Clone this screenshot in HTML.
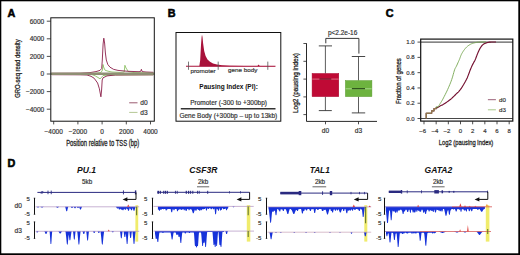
<!DOCTYPE html>
<html><head><meta charset="utf-8"><style>
html,body{margin:0;padding:0;background:#fff;width:520px;height:255px;overflow:hidden}
svg{display:block}
text{font-family:"Liberation Sans", sans-serif}
</style></head><body>
<svg width="520" height="255" viewBox="0 0 520 255">
<rect width="520" height="255" fill="#fff"/>
<rect x="0" y="0" width="520" height="1.3" fill="#000"/>
<rect x="0" y="0" width="1.3" height="255" fill="#000"/>
<rect x="518.3" y="0" width="1.7" height="255" fill="#000"/>
<rect x="0" y="253.3" width="520" height="1.7" fill="#000"/>
<text x="7.40" y="16.60" font-size="10.8" text-anchor="start" stroke="#000" stroke-width="0.55" font-weight="bold" fill="#000">A</text>
<path d="M51.80,74.40 L92.00,74.60 L95.30,75.90 L98.00,77.50 L100.00,78.80 L101.50,77.50 L103.00,75.50 L110.00,75.00 L153.30,74.80" stroke="#8cbf64" stroke-width="0.9" fill="none" stroke-linejoin="round"/>
<path d="M51.80,73.60 L95.00,73.40 L101.00,72.60 L102.50,70.00 L103.00,64.50 L103.60,67.00 L105.00,70.20 L108.00,71.20 L112.00,72.00 L120.00,72.40 L124.20,72.00 L124.90,65.30 L126.00,68.00 L128.40,71.60 L134.00,72.60 L153.30,72.90" stroke="#8cbf64" stroke-width="0.9" fill="none" stroke-linejoin="round"/>
<path d="M51.80,74.70 L80.00,74.80 L87.00,75.00 L91.00,76.30 L94.10,78.20 L97.60,83.00 L99.40,88.80 L100.90,96.80 L101.60,90.00 L102.20,80.00 L103.00,77.80 L107.00,75.90 L115.30,75.00 L130.00,74.90 L153.30,74.80" stroke="#8b1f4a" stroke-width="0.9" fill="none" stroke-linejoin="round"/>
<path d="M51.80,73.30 L80.00,73.20 L90.00,72.60 L96.00,71.60 L100.00,70.40 L101.70,68.50 L102.30,60.00 L103.10,44.00 L103.80,38.20 L104.60,43.00 L105.40,53.00 L106.30,60.00 L107.80,64.50 L110.00,67.20 L113.50,69.30 L118.00,70.40 L128.00,71.30 L139.00,71.70 L140.70,71.40 L141.40,69.30 L142.10,71.60 L146.00,72.00 L153.30,72.30" stroke="#8b1f4a" stroke-width="0.9" fill="none" stroke-linejoin="round"/>
<line x1="50.80" y1="73.70" x2="154.30" y2="73.70" stroke="#8f8f74" stroke-width="2.4"/>
<rect x="50.8" y="17.8" width="103.50000000000001" height="103.4" fill="none" stroke="#111" stroke-width="1"/>
<line x1="46.80" y1="21.20" x2="50.80" y2="21.20" stroke="#222" stroke-width="0.8"/>
<text x="44.20" y="23.50" font-size="6.5" text-anchor="end" stroke="#333" stroke-width="0.18" fill="#333">6000</text>
<line x1="46.80" y1="38.80" x2="50.80" y2="38.80" stroke="#222" stroke-width="0.8"/>
<text x="44.20" y="41.10" font-size="6.5" text-anchor="end" stroke="#333" stroke-width="0.18" fill="#333">4000</text>
<line x1="46.80" y1="56.40" x2="50.80" y2="56.40" stroke="#222" stroke-width="0.8"/>
<text x="44.20" y="58.70" font-size="6.5" text-anchor="end" stroke="#333" stroke-width="0.18" fill="#333">2000</text>
<line x1="46.80" y1="74.00" x2="50.80" y2="74.00" stroke="#222" stroke-width="0.8"/>
<text x="44.20" y="76.30" font-size="6.5" text-anchor="end" stroke="#333" stroke-width="0.18" fill="#333">0</text>
<line x1="46.80" y1="91.60" x2="50.80" y2="91.60" stroke="#222" stroke-width="0.8"/>
<text x="44.20" y="93.90" font-size="6.5" text-anchor="end" stroke="#333" stroke-width="0.18" fill="#333">−2000</text>
<line x1="46.80" y1="109.20" x2="50.80" y2="109.20" stroke="#222" stroke-width="0.8"/>
<text x="44.20" y="111.50" font-size="6.5" text-anchor="end" stroke="#333" stroke-width="0.18" fill="#333">−4000</text>
<line x1="53.70" y1="121.20" x2="53.70" y2="124.40" stroke="#222" stroke-width="0.8"/>
<text x="53.70" y="134.00" font-size="6.5" text-anchor="middle" stroke="#333" stroke-width="0.18" fill="#333">−4000</text>
<line x1="77.90" y1="121.20" x2="77.90" y2="124.40" stroke="#222" stroke-width="0.8"/>
<text x="77.90" y="134.00" font-size="6.5" text-anchor="middle" stroke="#333" stroke-width="0.18" fill="#333">−2000</text>
<line x1="102.10" y1="121.20" x2="102.10" y2="124.40" stroke="#222" stroke-width="0.8"/>
<text x="102.10" y="134.00" font-size="6.5" text-anchor="middle" stroke="#333" stroke-width="0.18" fill="#333">0</text>
<line x1="126.30" y1="121.20" x2="126.30" y2="124.40" stroke="#222" stroke-width="0.8"/>
<text x="126.30" y="134.00" font-size="6.5" text-anchor="middle" stroke="#333" stroke-width="0.18" fill="#333">2000</text>
<line x1="150.50" y1="121.20" x2="150.50" y2="124.40" stroke="#222" stroke-width="0.8"/>
<text x="150.50" y="134.00" font-size="6.5" text-anchor="middle" stroke="#333" stroke-width="0.18" fill="#333">4000</text>
<text x="66.20" y="145.60" font-size="8.2" text-anchor="start" stroke="#222" stroke-width="0.28" fill="#222" textLength="73" lengthAdjust="spacingAndGlyphs">Position relative to TSS (bp)</text>
<text x="0.00" y="0.00" font-size="7.6" text-anchor="middle" stroke="#222" stroke-width="0.28" fill="#222" textLength="58.5" lengthAdjust="spacingAndGlyphs" transform="translate(20.4,68.6) rotate(-90)">GRO-seq read density</text>
<line x1="129.20" y1="102.80" x2="137.50" y2="102.80" stroke="#9a5a70" stroke-width="1"/>
<line x1="129.20" y1="112.40" x2="137.50" y2="112.40" stroke="#b4c894" stroke-width="1"/>
<text x="140.30" y="105.10" font-size="6.6" text-anchor="start" stroke="#333" stroke-width="0.18" fill="#333">d0</text>
<text x="140.30" y="114.70" font-size="6.6" text-anchor="start" stroke="#333" stroke-width="0.18" fill="#333">d3</text>
<text x="167.80" y="17.10" font-size="10.8" text-anchor="start" stroke="#000" stroke-width="0.55" font-weight="bold" fill="#000">B</text>
<rect x="176" y="32.5" width="104.8" height="88.7" fill="none" stroke="#111" stroke-width="1"/>
<path d="M199.30,66.20 L200.20,60.00 L201.00,45.00 L201.60,37.00 L202.00,34.80 L202.50,37.00 L203.20,44.00 L204.20,51.00 L205.60,56.00 L207.50,59.50 L210.00,61.80 L213.00,63.40 L217.00,64.50 L222.00,65.30 L230.00,65.70 L245.00,65.90 L257.50,65.90 L258.60,64.60 L259.70,65.90 L275.00,66.00 L275.00,66.20 Z" fill="#a8123a" stroke="none"/>
<line x1="186.00" y1="66.20" x2="275.50" y2="66.20" stroke="#a8123a" stroke-width="1.1"/>
<line x1="188.50" y1="61.60" x2="188.50" y2="69.80" stroke="#555" stroke-width="0.8"/>
<line x1="218.20" y1="61.60" x2="218.20" y2="69.80" stroke="#555" stroke-width="0.8"/>
<line x1="267.80" y1="61.60" x2="267.80" y2="69.80" stroke="#555" stroke-width="0.8"/>
<text x="190.50" y="72.90" font-size="6.2" text-anchor="start" stroke="#333" stroke-width="0.18" fill="#333" textLength="25" lengthAdjust="spacingAndGlyphs">promoter</text>
<text x="227.90" y="71.90" font-size="6.2" text-anchor="start" stroke="#333" stroke-width="0.18" fill="#333" textLength="29.4" lengthAdjust="spacingAndGlyphs">gene body</text>
<text x="228.60" y="89.10" font-size="6.5" text-anchor="middle" font-weight="bold" fill="#111" textLength="58.5" lengthAdjust="spacingAndGlyphs">Pausing Index (PI):</text>
<text x="228.60" y="105.00" font-size="6.4" text-anchor="middle" stroke="#333" stroke-width="0.18" fill="#333" textLength="76.8" lengthAdjust="spacingAndGlyphs">Promoter (-300 to +300bp)</text>
<line x1="180.80" y1="108.80" x2="275.50" y2="108.80" stroke="#333" stroke-width="1.6"/>
<text x="228.35" y="118.20" font-size="6.4" text-anchor="middle" stroke="#333" stroke-width="0.18" fill="#333" textLength="97.9" lengthAdjust="spacingAndGlyphs">Gene Body (+300bp – up to 13kb)</text>
<path d="M306.5,43.3 L306.5,121.4 L377,121.4" stroke="#111" stroke-width="0.9" fill="none"/>
<line x1="303.40" y1="43.50" x2="306.50" y2="43.50" stroke="#222" stroke-width="0.8"/>
<line x1="303.40" y1="61.30" x2="306.50" y2="61.30" stroke="#222" stroke-width="0.8"/>
<line x1="303.40" y1="79.10" x2="306.50" y2="79.10" stroke="#222" stroke-width="0.8"/>
<line x1="303.40" y1="96.90" x2="306.50" y2="96.90" stroke="#222" stroke-width="0.8"/>
<line x1="303.40" y1="114.60" x2="306.50" y2="114.60" stroke="#222" stroke-width="0.8"/>
<line x1="325.50" y1="121.40" x2="325.50" y2="124.30" stroke="#222" stroke-width="0.8"/>
<line x1="358.50" y1="121.40" x2="358.50" y2="124.30" stroke="#222" stroke-width="0.8"/>
<text x="325.50" y="133.10" font-size="6.6" text-anchor="middle" stroke="#333" stroke-width="0.18" fill="#333">d0</text>
<text x="358.50" y="133.10" font-size="6.6" text-anchor="middle" stroke="#333" stroke-width="0.18" fill="#333">d3</text>
<text x="0.00" y="0.00" font-size="7.6" text-anchor="middle" stroke="#222" stroke-width="0.28" fill="#222" textLength="60" lengthAdjust="spacingAndGlyphs" transform="translate(298.2,83.0) rotate(-90)">Log2 (pausing index)</text>
<text x="342.60" y="34.50" font-size="6.5" text-anchor="middle" stroke="#333" stroke-width="0.18" fill="#333" textLength="29.4" lengthAdjust="spacingAndGlyphs">p&lt;2.2e-16</text>
<path d="M325.8,43.3 L325.8,38.4 L358.9,38.4 L358.9,53.6" stroke="#222" stroke-width="0.9" fill="none"/>
<line x1="325.40" y1="45.90" x2="325.40" y2="73.50" stroke="#333" stroke-width="0.8"/>
<line x1="325.40" y1="96.60" x2="325.40" y2="110.60" stroke="#333" stroke-width="0.8"/>
<line x1="318.80" y1="45.90" x2="332.00" y2="45.90" stroke="#333" stroke-width="0.9"/>
<line x1="318.80" y1="110.60" x2="331.80" y2="110.60" stroke="#333" stroke-width="0.9"/>
<rect x="312.1" y="73.5" width="26.65" height="23.1" fill="#bf0a35" stroke="#a8002a" stroke-width="0.5"/>
<line x1="312.30" y1="79.10" x2="338.60" y2="79.10" stroke="#e88a9a" stroke-width="0.8"/>
<line x1="319.40" y1="79.00" x2="331.30" y2="79.00" stroke="#5a0012" stroke-width="1.0"/>
<line x1="358.50" y1="56.50" x2="358.50" y2="80.60" stroke="#333" stroke-width="0.8"/>
<line x1="358.50" y1="96.60" x2="358.50" y2="112.90" stroke="#333" stroke-width="0.8"/>
<line x1="351.80" y1="56.50" x2="365.20" y2="56.50" stroke="#333" stroke-width="0.9"/>
<line x1="351.80" y1="112.90" x2="365.20" y2="112.90" stroke="#333" stroke-width="0.9"/>
<rect x="345.4" y="80.6" width="26.5" height="16.0" fill="#6db33f" stroke="#5a9a30" stroke-width="0.5"/>
<line x1="345.60" y1="88.80" x2="371.70" y2="88.80" stroke="#b8e0a0" stroke-width="0.8"/>
<line x1="351.90" y1="88.70" x2="365.00" y2="88.70" stroke="#1a3a0a" stroke-width="1.0"/>
<text x="385.70" y="17.10" font-size="10.8" text-anchor="start" stroke="#000" stroke-width="0.55" font-weight="bold" fill="#000">C</text>
<line x1="420.70" y1="42.10" x2="512.80" y2="42.10" stroke="#333" stroke-width="1.0"/>
<line x1="420.70" y1="118.50" x2="512.80" y2="118.50" stroke="#333" stroke-width="0.9"/>
<path d="M426.20,118.50 L426.20,113.20 L431.70,113.20 L431.70,110.90 L434.00,110.90 L434.00,108.60 L436.20,108.60 L436.20,107.60 L437.60,107.60 L437.91,107.40 L438.34,107.13 L438.84,106.81 L439.40,106.46 L439.96,106.12 L440.50,105.80 L440.99,105.55 L441.44,105.34 L441.90,105.14 L442.42,104.90 L443.04,104.57 L443.80,104.10 L444.76,103.47 L445.89,102.71 L447.13,101.86 L448.39,100.96 L449.60,100.06 L450.70,99.20 L451.69,98.37 L452.61,97.53 L453.50,96.69 L454.35,95.86 L455.18,95.02 L456.00,94.20 L456.78,93.45 L457.51,92.77 L458.21,92.10 L458.93,91.36 L459.68,90.49 L460.50,89.40 L461.43,88.06 L462.44,86.50 L463.49,84.81 L464.53,83.05 L465.52,81.29 L466.40,79.60 L467.19,77.91 L467.91,76.15 L468.59,74.39 L469.21,72.70 L469.78,71.14 L470.30,69.80 L470.74,68.72 L471.10,67.86 L471.41,67.13 L471.71,66.47 L472.02,65.78 L472.40,65.00 L472.84,64.13 L473.33,63.23 L473.84,62.32 L474.35,61.39 L474.84,60.45 L475.30,59.50 L475.71,58.54 L476.09,57.56 L476.46,56.57 L476.82,55.57 L477.19,54.58 L477.60,53.60 L478.03,52.60 L478.49,51.58 L478.95,50.56 L479.43,49.57 L479.91,48.64 L480.40,47.80 L480.89,47.05 L481.37,46.37 L481.87,45.74 L482.38,45.18 L482.92,44.66 L483.50,44.20 L484.13,43.79 L484.82,43.45 L485.53,43.15 L486.25,42.90 L486.95,42.69 L487.60,42.50 L488.19,42.35 L488.73,42.24 L489.24,42.17 L489.77,42.13 L490.35,42.09 L491.00,42.05 L491.80,42.01 L492.73,41.99 L493.71,41.97 L494.64,41.96 L495.44,41.96 L496.00,41.95" stroke="#741030" stroke-width="1.15" fill="none"/>
<path d="M426.20,118.50 L426.20,113.20 L431.70,113.20 L431.70,110.90 L434.00,110.90 L434.00,108.60 L436.20,108.60 L436.20,106.80 L438.20,106.80 L438.44,106.41 L438.76,105.88 L439.15,105.25 L439.57,104.56 L440.00,103.86 L440.40,103.20 L440.76,102.62 L441.09,102.11 L441.43,101.59 L441.81,100.98 L442.25,100.21 L442.80,99.20 L443.48,97.90 L444.28,96.36 L445.15,94.66 L446.04,92.88 L446.91,91.10 L447.70,89.40 L448.43,87.77 L449.14,86.13 L449.82,84.50 L450.48,82.87 L451.11,81.23 L451.70,79.60 L452.26,77.90 L452.79,76.11 L453.28,74.32 L453.75,72.62 L454.19,71.09 L454.60,69.80 L454.96,68.85 L455.27,68.19 L455.55,67.69 L455.83,67.24 L456.14,66.72 L456.50,66.00 L456.93,65.07 L457.41,64.01 L457.92,62.88 L458.43,61.72 L458.93,60.58 L459.40,59.50 L459.81,58.48 L460.17,57.49 L460.52,56.51 L460.89,55.54 L461.31,54.57 L461.80,53.60 L462.38,52.60 L463.02,51.58 L463.71,50.56 L464.43,49.57 L465.16,48.64 L465.90,47.80 L466.64,47.05 L467.40,46.37 L468.17,45.74 L468.97,45.18 L469.77,44.66 L470.60,44.20 L471.46,43.79 L472.37,43.45 L473.29,43.15 L474.20,42.90 L475.08,42.69 L475.90,42.50 L476.63,42.35 L477.29,42.24 L477.91,42.17 L478.54,42.13 L479.22,42.09 L480.00,42.05 L480.96,42.01 L482.08,41.99 L483.26,41.97 L484.37,41.96 L485.33,41.96 L486.00,41.95" stroke="#76a650" stroke-width="0.9" fill="none"/>
<path d="M426.20,118.50 L426.20,113.20 L431.70,113.20 L431.70,110.90 L434.00,110.90 L434.00,108.60 L436.20,108.60" stroke="#9a7050" stroke-width="0.9" fill="none"/>
<rect x="420.7" y="39.1" width="92.10" height="82.00" fill="none" stroke="#111" stroke-width="1.2"/>
<line x1="417.50" y1="42.10" x2="420.70" y2="42.10" stroke="#222" stroke-width="0.8"/>
<text x="414.70" y="44.20" font-size="6.0" text-anchor="end" stroke="#333" stroke-width="0.18" fill="#333">1.0</text>
<line x1="417.50" y1="57.38" x2="420.70" y2="57.38" stroke="#222" stroke-width="0.8"/>
<text x="414.70" y="59.48" font-size="6.0" text-anchor="end" stroke="#333" stroke-width="0.18" fill="#333">0.8</text>
<line x1="417.50" y1="72.66" x2="420.70" y2="72.66" stroke="#222" stroke-width="0.8"/>
<text x="414.70" y="74.76" font-size="6.0" text-anchor="end" stroke="#333" stroke-width="0.18" fill="#333">0.6</text>
<line x1="417.50" y1="87.94" x2="420.70" y2="87.94" stroke="#222" stroke-width="0.8"/>
<text x="414.70" y="90.04" font-size="6.0" text-anchor="end" stroke="#333" stroke-width="0.18" fill="#333">0.4</text>
<line x1="417.50" y1="103.22" x2="420.70" y2="103.22" stroke="#222" stroke-width="0.8"/>
<text x="414.70" y="105.32" font-size="6.0" text-anchor="end" stroke="#333" stroke-width="0.18" fill="#333">0.2</text>
<line x1="417.50" y1="118.50" x2="420.70" y2="118.50" stroke="#222" stroke-width="0.8"/>
<text x="414.70" y="120.60" font-size="6.0" text-anchor="end" stroke="#333" stroke-width="0.18" fill="#333">0.0</text>
<line x1="423.99" y1="121.10" x2="423.99" y2="124.30" stroke="#222" stroke-width="0.8"/>
<text x="422.69" y="133.20" font-size="6.0" text-anchor="middle" stroke="#333" stroke-width="0.18" fill="#333">−6</text>
<line x1="436.16" y1="121.10" x2="436.16" y2="124.30" stroke="#222" stroke-width="0.8"/>
<text x="434.86" y="133.20" font-size="6.0" text-anchor="middle" stroke="#333" stroke-width="0.18" fill="#333">−4</text>
<line x1="448.33" y1="121.10" x2="448.33" y2="124.30" stroke="#222" stroke-width="0.8"/>
<text x="447.03" y="133.20" font-size="6.0" text-anchor="middle" stroke="#333" stroke-width="0.18" fill="#333">−2</text>
<line x1="460.50" y1="121.10" x2="460.50" y2="124.30" stroke="#222" stroke-width="0.8"/>
<text x="460.50" y="133.20" font-size="6.0" text-anchor="middle" stroke="#333" stroke-width="0.18" fill="#333">0</text>
<line x1="472.67" y1="121.10" x2="472.67" y2="124.30" stroke="#222" stroke-width="0.8"/>
<text x="472.67" y="133.20" font-size="6.0" text-anchor="middle" stroke="#333" stroke-width="0.18" fill="#333">2</text>
<line x1="484.84" y1="121.10" x2="484.84" y2="124.30" stroke="#222" stroke-width="0.8"/>
<text x="484.84" y="133.20" font-size="6.0" text-anchor="middle" stroke="#333" stroke-width="0.18" fill="#333">4</text>
<line x1="497.01" y1="121.10" x2="497.01" y2="124.30" stroke="#222" stroke-width="0.8"/>
<text x="497.01" y="133.20" font-size="6.0" text-anchor="middle" stroke="#333" stroke-width="0.18" fill="#333">6</text>
<line x1="509.18" y1="121.10" x2="509.18" y2="124.30" stroke="#222" stroke-width="0.8"/>
<text x="509.18" y="133.20" font-size="6.0" text-anchor="middle" stroke="#333" stroke-width="0.18" fill="#333">8</text>
<text x="438.70" y="144.80" font-size="8.0" text-anchor="start" stroke="#222" stroke-width="0.28" fill="#222" textLength="54.6" lengthAdjust="spacingAndGlyphs">Log2 (pausing index)</text>
<text x="0.00" y="0.00" font-size="7.6" text-anchor="middle" stroke="#222" stroke-width="0.28" fill="#222" textLength="45.6" lengthAdjust="spacingAndGlyphs" transform="translate(400.9,81.1) rotate(-90)">Fraction of genes</text>
<line x1="487.90" y1="99.70" x2="495.90" y2="99.70" stroke="#9a6078" stroke-width="1"/>
<line x1="487.90" y1="109.80" x2="495.90" y2="109.80" stroke="#a8c888" stroke-width="1"/>
<text x="499.00" y="101.70" font-size="6.2" text-anchor="start" stroke="#333" stroke-width="0.18" fill="#333">d0</text>
<text x="499.00" y="111.80" font-size="6.2" text-anchor="start" stroke="#333" stroke-width="0.18" fill="#333">d3</text>
<text x="7.40" y="167.10" font-size="10.8" text-anchor="start" stroke="#000" stroke-width="0.55" font-weight="bold" fill="#000">D</text>
<rect x="135.4" y="205.2" width="2.80" height="36.4" fill="#f0ec6c"/>
<rect x="246.8" y="205.2" width="3.50" height="36.4" fill="#f0ec6c"/>
<rect x="364.3" y="205.2" width="3.00" height="36.4" fill="#f0ec6c"/>
<rect x="485.8" y="205.2" width="3.60" height="36.4" fill="#f0ec6c"/>
<text x="86.60" y="173.30" font-size="8.3" text-anchor="middle" font-weight="bold" font-style="italic" fill="#111" textLength="19.0" lengthAdjust="spacingAndGlyphs">PU.1</text>
<text x="87.10" y="184.20" font-size="6.3" text-anchor="middle" stroke="#333" stroke-width="0.18" fill="#333">5kb</text>
<line x1="37.40" y1="192.40" x2="136.00" y2="192.40" stroke="#2a2a80" stroke-width="1.0"/>
<rect x="47.55" y="190.60" width="0.9" height="3.6" fill="#2a2a80"/>
<rect x="50.75" y="190.60" width="0.9" height="3.6" fill="#2a2a80"/>
<rect x="122.95" y="190.40" width="0.9" height="4.0" fill="#2a2a80"/>
<rect x="134.90" y="190.40" width="1.4" height="4.0" fill="#2a2a80"/>
<path d="M136.00,192.40 L136.00,199.40 L126.60,199.4" stroke="#111" stroke-width="1.0" fill="none"/>
<path d="M122.60,199.4 L127.40,197.2 L127.40,201.6 Z" fill="#111"/>
<ellipse cx="42" cy="192.4" rx="1.3" ry="0.9" fill="none" stroke="#35358a" stroke-width="0.6"/>
<line x1="40.80" y1="193.70" x2="43.20" y2="191.10" stroke="#2a2a80" stroke-width="0.6"/>
<text x="203.35" y="173.30" font-size="8.3" text-anchor="middle" font-weight="bold" font-style="italic" fill="#111" textLength="28.1" lengthAdjust="spacingAndGlyphs">CSF3R</text>
<text x="203.20" y="184.20" font-size="6.3" text-anchor="middle" stroke="#333" stroke-width="0.18" fill="#333">2kb</text>
<line x1="197.00" y1="186.80" x2="209.20" y2="186.80" stroke="#555" stroke-width="0.9"/>
<line x1="157.40" y1="192.30" x2="249.60" y2="192.30" stroke="#2a2a80" stroke-width="1.0"/>
<rect x="157.40" y="190.80" width="1.6" height="3" fill="#2a2a80"/>
<rect x="159.70" y="190.80" width="1.2" height="3" fill="#2a2a80"/>
<rect x="163.20" y="190.80" width="1.2" height="3" fill="#2a2a80"/>
<rect x="165.00" y="190.80" width="1.2" height="3" fill="#2a2a80"/>
<rect x="166.90" y="190.80" width="1.0" height="3" fill="#2a2a80"/>
<rect x="174.95" y="190.80" width="0.9" height="3" fill="#2a2a80"/>
<rect x="176.75" y="190.80" width="0.9" height="3" fill="#2a2a80"/>
<rect x="185.70" y="190.80" width="1.2" height="3" fill="#2a2a80"/>
<rect x="188.00" y="190.80" width="1.2" height="3" fill="#2a2a80"/>
<rect x="190.10" y="190.80" width="1.0" height="3" fill="#2a2a80"/>
<rect x="192.30" y="190.80" width="1.0" height="3" fill="#2a2a80"/>
<rect x="197.15" y="190.80" width="0.9" height="3" fill="#2a2a80"/>
<rect x="198.75" y="190.80" width="0.9" height="3" fill="#2a2a80"/>
<rect x="207.20" y="190.80" width="1.0" height="3" fill="#2a2a80"/>
<rect x="229.25" y="191.10" width="0.7" height="2.4" fill="#2a2a80"/>
<rect x="240.15" y="191.10" width="0.7" height="2.4" fill="#2a2a80"/>
<path d="M249.60,192.30 L249.60,199.40 L240.60,199.4" stroke="#111" stroke-width="1.0" fill="none"/>
<path d="M236.60,199.4 L241.40,197.2 L241.40,201.6 Z" fill="#111"/>
<text x="319.75" y="173.30" font-size="8.3" text-anchor="middle" font-weight="bold" font-style="italic" fill="#111" textLength="20.1" lengthAdjust="spacingAndGlyphs">TAL1</text>
<text x="320.00" y="184.20" font-size="6.3" text-anchor="middle" stroke="#333" stroke-width="0.18" fill="#333">2kb</text>
<line x1="312.50" y1="186.80" x2="326.20" y2="186.80" stroke="#555" stroke-width="0.9"/>
<line x1="280.30" y1="193.10" x2="367.60" y2="193.10" stroke="#2a2a80" stroke-width="1.0"/>
<rect x="280.3" y="191.80" width="18.70" height="2.6" fill="#2a2a80"/>
<rect x="298.70" y="191.00" width="2.6" height="4.2" fill="#2a2a80"/>
<rect x="322.15" y="191.30" width="0.9" height="3.6" fill="#2a2a80"/>
<rect x="329.80" y="191.00" width="2.4" height="4.2" fill="#2a2a80"/>
<rect x="350.60" y="191.90" width="0.8" height="2.4" fill="#2a2a80"/>
<rect x="359.20" y="191.90" width="0.8" height="2.4" fill="#2a2a80"/>
<rect x="364.00" y="191.90" width="0.8" height="2.4" fill="#2a2a80"/>
<path d="M367.60,193.10 L367.60,199.40 L357.80,199.4" stroke="#111" stroke-width="1.0" fill="none"/>
<path d="M353.80,199.4 L358.60,197.2 L358.60,201.6 Z" fill="#111"/>
<text x="438.40" y="173.30" font-size="8.3" text-anchor="middle" font-weight="bold" font-style="italic" fill="#111" textLength="27.6" lengthAdjust="spacingAndGlyphs">GATA2</text>
<text x="438.05" y="184.20" font-size="6.3" text-anchor="middle" stroke="#333" stroke-width="0.18" fill="#333">2kb</text>
<line x1="431.90" y1="186.80" x2="444.60" y2="186.80" stroke="#555" stroke-width="0.9"/>
<line x1="388.80" y1="191.80" x2="487.80" y2="191.80" stroke="#2a2a80" stroke-width="1.0"/>
<rect x="388.8" y="190.60" width="12.20" height="2.4" fill="#2a2a80"/>
<rect x="400.80" y="190.00" width="1.4" height="3.6" fill="#2a2a80"/>
<rect x="406.80" y="190.30" width="0.8" height="3" fill="#2a2a80"/>
<rect x="421.10" y="190.30" width="0.8" height="3" fill="#2a2a80"/>
<rect x="434.30" y="190.10" width="4.6" height="3.4" fill="#2a2a80"/>
<rect x="441.55" y="190.30" width="1.5" height="3.0" fill="#2a2a80"/>
<rect x="448.60" y="190.90" width="1.2" height="1.8" fill="#2a2a80"/>
<rect x="453.20" y="190.90" width="1.2" height="1.8" fill="#2a2a80"/>
<rect x="487.20" y="190.60" width="0.8" height="2.4" fill="#2a2a80"/>
<path d="M487.80,191.80 L487.80,199.40 L478.60,199.4" stroke="#111" stroke-width="1.0" fill="none"/>
<path d="M474.60,199.4 L479.40,197.2 L479.40,201.6 Z" fill="#111"/>
<text x="14.60" y="208.40" font-size="6.6" text-anchor="start" stroke="#333" stroke-width="0.18" fill="#333">d0</text>
<text x="14.60" y="232.50" font-size="6.6" text-anchor="start" stroke="#333" stroke-width="0.18" fill="#333">d3</text>
<line x1="34.50" y1="197.90" x2="34.50" y2="214.60" stroke="#111" stroke-width="1.0"/>
<line x1="33.70" y1="198.20" x2="35.30" y2="198.20" stroke="#222" stroke-width="0.6"/>
<line x1="33.70" y1="214.30" x2="35.30" y2="214.30" stroke="#222" stroke-width="0.6"/>
<line x1="34.50" y1="221.60" x2="34.50" y2="238.80" stroke="#111" stroke-width="1.0"/>
<line x1="33.70" y1="221.90" x2="35.30" y2="221.90" stroke="#222" stroke-width="0.6"/>
<line x1="33.70" y1="238.50" x2="35.30" y2="238.50" stroke="#222" stroke-width="0.6"/>
<text x="29.80" y="200.70" font-size="6.0" text-anchor="end" stroke="#333" stroke-width="0.18" fill="#333">5</text>
<text x="29.80" y="215.70" font-size="6.0" text-anchor="end" stroke="#333" stroke-width="0.18" fill="#333">-5</text>
<text x="29.80" y="224.90" font-size="6.0" text-anchor="end" stroke="#333" stroke-width="0.18" fill="#333">5</text>
<text x="29.80" y="239.90" font-size="6.0" text-anchor="end" stroke="#333" stroke-width="0.18" fill="#333">-5</text>
<line x1="152.50" y1="197.90" x2="152.50" y2="214.60" stroke="#111" stroke-width="1.0"/>
<line x1="151.70" y1="198.20" x2="153.30" y2="198.20" stroke="#222" stroke-width="0.6"/>
<line x1="151.70" y1="214.30" x2="153.30" y2="214.30" stroke="#222" stroke-width="0.6"/>
<line x1="152.50" y1="221.60" x2="152.50" y2="238.80" stroke="#111" stroke-width="1.0"/>
<line x1="151.70" y1="221.90" x2="153.30" y2="221.90" stroke="#222" stroke-width="0.6"/>
<line x1="151.70" y1="238.50" x2="153.30" y2="238.50" stroke="#222" stroke-width="0.6"/>
<text x="147.40" y="200.70" font-size="6.0" text-anchor="end" stroke="#333" stroke-width="0.18" fill="#333">5</text>
<text x="147.40" y="215.70" font-size="6.0" text-anchor="end" stroke="#333" stroke-width="0.18" fill="#333">-5</text>
<text x="147.40" y="224.90" font-size="6.0" text-anchor="end" stroke="#333" stroke-width="0.18" fill="#333">5</text>
<text x="147.40" y="239.90" font-size="6.0" text-anchor="end" stroke="#333" stroke-width="0.18" fill="#333">-5</text>
<line x1="266.50" y1="197.90" x2="266.50" y2="214.60" stroke="#111" stroke-width="1.0"/>
<line x1="265.70" y1="198.20" x2="267.30" y2="198.20" stroke="#222" stroke-width="0.6"/>
<line x1="265.70" y1="214.30" x2="267.30" y2="214.30" stroke="#222" stroke-width="0.6"/>
<line x1="266.50" y1="221.60" x2="266.50" y2="238.80" stroke="#111" stroke-width="1.0"/>
<line x1="265.70" y1="221.90" x2="267.30" y2="221.90" stroke="#222" stroke-width="0.6"/>
<line x1="265.70" y1="238.50" x2="267.30" y2="238.50" stroke="#222" stroke-width="0.6"/>
<text x="261.40" y="200.70" font-size="6.0" text-anchor="end" stroke="#333" stroke-width="0.18" fill="#333">5</text>
<text x="261.40" y="215.70" font-size="6.0" text-anchor="end" stroke="#333" stroke-width="0.18" fill="#333">-5</text>
<text x="261.40" y="224.90" font-size="6.0" text-anchor="end" stroke="#333" stroke-width="0.18" fill="#333">5</text>
<text x="261.40" y="239.90" font-size="6.0" text-anchor="end" stroke="#333" stroke-width="0.18" fill="#333">-5</text>
<line x1="384.50" y1="197.90" x2="384.50" y2="214.60" stroke="#111" stroke-width="1.0"/>
<line x1="383.70" y1="198.20" x2="385.30" y2="198.20" stroke="#222" stroke-width="0.6"/>
<line x1="383.70" y1="214.30" x2="385.30" y2="214.30" stroke="#222" stroke-width="0.6"/>
<line x1="384.50" y1="221.60" x2="384.50" y2="238.80" stroke="#111" stroke-width="1.0"/>
<line x1="383.70" y1="221.90" x2="385.30" y2="221.90" stroke="#222" stroke-width="0.6"/>
<line x1="383.70" y1="238.50" x2="385.30" y2="238.50" stroke="#222" stroke-width="0.6"/>
<text x="381.30" y="200.70" font-size="6.0" text-anchor="end" stroke="#333" stroke-width="0.18" fill="#333">5</text>
<text x="381.30" y="215.70" font-size="6.0" text-anchor="end" stroke="#333" stroke-width="0.18" fill="#333">-5</text>
<text x="381.30" y="224.90" font-size="6.0" text-anchor="end" stroke="#333" stroke-width="0.18" fill="#333">5</text>
<text x="381.30" y="239.90" font-size="6.0" text-anchor="end" stroke="#333" stroke-width="0.18" fill="#333">-5</text>
<path d="M37.20,206.80 L37.20,207.18 L37.45,207.47 L37.70,207.60 L37.95,207.60 L38.20,207.60 L38.45,207.60 L38.70,207.29 L38.95,207.02 L39.20,206.82 L39.45,206.80 L39.70,206.80 L39.95,206.80 L40.20,206.80 L40.45,206.86 L40.70,206.99 L40.95,207.15 L41.20,207.33 L41.45,207.52 L41.70,207.60 L41.95,207.60 L42.20,207.60 L42.45,207.60 L42.70,207.40 L42.95,207.22 L43.20,207.05 L43.45,206.91 L43.70,206.81 L43.95,206.80 L44.20,206.80 L44.45,206.80 L44.70,206.80 L44.95,206.80 L45.20,206.80 L45.45,206.80 L45.70,206.80 L45.95,206.80 L46.20,206.80 L46.45,206.80 L46.70,206.80 L46.95,206.80 L47.20,206.80 L47.45,206.80 L47.70,206.80 L47.95,206.80 L48.20,206.80 L48.45,206.80 L48.70,206.80 L48.95,206.80 L49.20,206.80 L49.45,206.80 L49.70,206.80 L49.95,206.80 L50.20,206.80 L50.45,206.80 L50.70,206.80 L50.95,206.80 L51.20,206.80 L51.45,206.80 L51.70,206.80 L51.95,206.80 L52.20,206.80 L52.45,206.80 L52.70,206.80 L52.95,206.80 L53.20,206.80 L53.45,206.80 L53.70,206.80 L53.95,206.80 L54.20,206.80 L54.45,206.80 L54.70,206.80 L54.95,206.80 L55.20,206.80 L55.45,206.80 L55.70,206.80 L55.95,206.87 L56.20,207.02 L56.45,207.20 L56.70,207.39 L56.95,207.61 L57.20,207.70 L57.45,207.70 L57.70,207.70 L57.95,207.70 L58.20,207.48 L58.45,207.27 L58.70,207.09 L58.95,206.92 L59.20,206.81 L59.45,206.80 L59.70,206.80 L59.95,206.80 L60.20,206.80 L60.45,206.80 L60.70,206.80 L60.95,206.80 L61.20,206.80 L61.45,206.80 L61.70,206.80 L61.95,206.80 L62.20,206.80 L62.45,206.80 L62.70,206.80 L62.95,206.80 L63.20,206.80 L63.45,206.80 L63.70,206.80 L63.95,206.80 L64.20,206.80 L64.45,206.80 L64.70,206.80 L64.95,206.80 L65.20,206.92 L65.45,207.66 L65.70,208.63 L65.95,209.73 L66.20,210.95 L66.45,211.20 L66.70,211.20 L66.95,211.20 L67.20,210.95 L67.45,209.73 L67.70,208.63 L67.95,207.66 L68.20,206.92 L68.45,206.80 L68.70,206.80 L68.95,206.80 L69.20,206.80 L69.45,206.80 L69.70,206.80 L69.95,206.80 L70.20,206.80 L70.45,206.80 L70.70,206.87 L70.95,207.14 L71.20,207.47 L71.45,207.84 L71.70,208.00 L71.95,208.00 L72.20,208.00 L72.45,208.00 L72.70,207.61 L72.95,207.26 L73.20,206.97 L73.45,206.80 L73.70,206.89 L73.95,207.22 L74.20,207.63 L74.45,208.10 L74.70,208.30 L74.95,208.30 L75.20,208.30 L75.45,208.30 L75.70,207.81 L75.95,207.38 L76.20,207.01 L76.45,206.80 L76.70,206.87 L76.95,207.14 L77.20,207.47 L77.45,207.84 L77.70,208.00 L77.95,208.00 L78.20,208.00 L78.45,208.00 L78.70,207.61 L78.95,207.26 L79.20,207.24 L79.45,207.83 L79.70,208.52 L79.95,209.28 L80.20,209.60 L80.45,209.60 L80.70,209.60 L80.95,209.60 L81.20,208.82 L81.45,208.10 L81.70,207.46 L81.95,206.95 L82.20,206.80 L82.45,206.80 L82.70,206.80 L82.95,206.80 L83.20,206.80 L83.45,206.80 L83.70,206.80 L83.95,206.80 L84.20,206.80 L84.45,206.80 L84.70,206.80 L84.95,206.80 L85.20,206.80 L85.45,206.80 L85.70,206.80 L85.95,206.80 L86.20,206.80 L86.45,206.80 L86.70,206.80 L86.95,206.80 L87.20,206.80 L87.45,206.80 L87.70,206.80 L87.95,206.80 L88.20,206.80 L88.45,206.80 L88.70,206.80 L88.95,206.80 L89.20,206.80 L89.45,206.80 L89.70,206.80 L89.95,206.80 L90.20,206.80 L90.45,206.80 L90.70,206.80 L90.95,206.80 L91.20,206.80 L91.45,206.80 L91.70,206.80 L91.95,206.80 L92.20,206.80 L92.45,206.80 L92.70,206.80 L92.95,206.80 L93.20,206.80 L93.45,206.80 L93.70,206.80 L93.95,206.80 L94.20,206.80 L94.45,206.80 L94.70,206.80 L94.95,206.80 L95.20,206.80 L95.45,206.80 L95.70,206.80 L95.95,206.80 L96.20,206.80 L96.45,206.80 L96.70,206.80 L96.95,206.80 L97.20,206.80 L97.45,206.80 L97.70,206.80 L97.95,206.80 L98.20,206.80 L98.45,206.80 L98.70,206.80 L98.95,206.80 L99.20,206.80 L99.45,206.80 L99.70,206.80 L99.95,206.80 L100.20,206.80 L100.45,206.80 L100.70,206.80 L100.95,206.80 L101.20,206.80 L101.45,206.80 L101.70,206.80 L101.95,206.80 L102.20,206.80 L102.45,206.80 L102.70,206.80 L102.95,206.80 L103.20,206.80 L103.45,206.80 L103.70,206.80 L103.95,206.80 L104.20,206.80 L104.45,206.80 L104.70,206.80 L104.95,206.80 L105.20,206.80 L105.45,206.80 L105.70,206.80 L105.95,206.80 L106.20,206.80 L106.45,206.80 L106.70,206.80 L106.95,206.80 L107.20,206.80 L107.45,206.80 L107.70,206.80 L107.95,206.80 L108.20,206.80 L108.45,206.80 L108.70,206.80 L108.95,206.80 L109.20,206.80 L109.45,206.80 L109.70,206.80 L109.95,206.80 L110.20,206.80 L110.45,206.80 L110.70,206.80 L110.95,206.80 L111.20,206.80 L111.45,206.80 L111.70,206.80 L111.95,206.80 L112.20,206.80 L112.45,206.80 L112.70,206.80 L112.95,206.80 L113.20,206.80 L113.45,206.80 L113.70,206.80 L113.95,206.80 L114.20,206.80 L114.45,206.80 L114.70,206.80 L114.95,206.80 L115.20,206.80 L115.45,206.80 L115.70,206.80 L115.95,206.93 L116.20,207.20 L116.45,207.52 L116.70,207.88 L116.95,208.27 L117.20,208.44 L117.45,208.44 L117.70,208.44 L117.95,208.44 L118.20,208.04 L118.45,208.28 L118.70,209.06 L118.95,209.48 L119.20,209.48 L119.45,209.48 L119.70,209.48 L119.95,209.30 L120.20,209.30 L120.45,209.30 L120.70,208.68 L120.95,208.72 L121.20,209.47 L121.45,209.67 L121.70,209.67 L121.95,209.67 L122.20,209.56 L122.45,209.95 L122.70,210.30 L122.95,210.30 L123.20,210.30 L123.45,210.30 L123.70,209.44 L123.95,208.64 L124.20,208.81 L124.45,209.32 L124.70,209.32 L124.95,209.50 L125.20,209.80 L125.45,209.80 L125.70,209.80 L125.95,209.80 L126.20,209.06 L126.45,208.38 L126.70,208.37 L126.95,208.98 L127.20,209.05 L127.45,209.05 L127.70,209.44 L127.95,210.40 L128.20,210.80 L128.45,210.80 L128.70,210.80 L128.95,210.80 L129.20,209.82 L129.45,208.90 L129.70,208.08 L129.95,208.41 L130.20,208.73 L130.45,208.73 L130.70,209.11 L130.95,209.95 L131.20,210.30 L131.45,210.30 L131.70,210.30 L131.95,210.30 L132.20,209.44 L132.45,208.64 L132.70,208.00 L132.95,208.56 L133.20,209.44 L133.45,210.40 L133.70,210.80 L133.95,210.80 L134.20,210.80 L134.45,210.80 L134.70,209.82 L134.95,208.90 L135.20,208.07 L135.45,208.00 L135.50,206.80 Z" fill="#1632da" stroke="none"/>
<line x1="35.50" y1="206.80" x2="139.20" y2="206.80" stroke="#b090c0" stroke-width="0.7"/>
<path d="M127.10,206.80 L128.30,204.40 L129.50,206.80 Z" fill="#e0403a"/>
<path d="M36.50,231.30 L36.50,232.04 L36.75,232.40 L37.00,232.40 L37.25,232.40 L37.50,232.40 L37.75,232.25 L38.00,231.91 L38.25,231.61 L38.50,231.37 L38.75,231.30 L39.00,231.30 L39.25,231.30 L39.50,231.30 L39.75,231.30 L40.00,231.30 L40.25,231.30 L40.50,231.30 L40.75,231.30 L41.00,231.30 L41.25,231.30 L41.50,231.30 L41.75,231.30 L42.00,231.30 L42.25,231.30 L42.50,231.30 L42.75,231.30 L43.00,231.30 L43.25,231.30 L43.50,231.30 L43.75,231.30 L44.00,231.30 L44.25,231.30 L44.50,231.59 L44.75,232.05 L45.00,232.60 L45.25,233.21 L45.50,233.86 L45.75,234.00 L46.00,234.00 L46.25,234.00 L46.50,233.86 L46.75,233.21 L47.00,232.60 L47.25,232.05 L47.50,231.59 L47.75,231.30 L48.00,231.30 L48.25,231.30 L48.50,231.30 L48.75,231.30 L49.00,231.30 L49.25,231.30 L49.50,231.30 L49.75,232.91 L50.00,236.31 L50.25,240.38 L50.50,244.00 L50.75,244.00 L51.00,244.00 L51.25,244.00 L51.50,241.26 L51.75,237.08 L52.00,233.52 L52.25,231.30 L52.50,231.30 L52.75,231.30 L53.00,231.30 L53.25,231.30 L53.50,231.30 L53.75,231.30 L54.00,231.30 L54.25,231.30 L54.50,231.30 L54.75,231.30 L55.00,231.30 L55.25,231.30 L55.50,231.30 L55.75,231.30 L56.00,231.30 L56.25,231.30 L56.50,231.30 L56.75,231.30 L57.00,231.30 L57.25,231.30 L57.50,231.30 L57.75,231.30 L58.00,231.30 L58.25,231.36 L58.50,231.61 L58.75,231.91 L59.00,232.27 L59.25,232.65 L59.50,233.06 L59.75,233.50 L60.00,233.50 L60.25,233.50 L60.50,233.50 L60.75,233.32 L61.00,232.90 L61.25,232.49 L61.50,232.12 L61.75,231.78 L62.00,231.50 L62.25,231.30 L62.50,231.30 L62.75,231.30 L63.00,231.30 L63.25,231.30 L63.50,231.30 L63.75,231.30 L64.00,231.30 L64.25,231.30 L64.50,231.30 L64.75,231.30 L65.00,231.30 L65.25,231.30 L65.50,231.66 L65.75,233.32 L66.00,235.44 L66.25,237.85 L66.50,240.49 L66.75,243.32 L67.00,244.50 L67.25,244.50 L67.50,244.50 L67.75,244.50 L68.00,241.60 L68.25,238.88 L68.50,236.37 L68.75,234.52 L69.00,236.42 L69.25,238.52 L69.50,240.30 L69.75,240.30 L70.00,240.30 L70.25,240.30 L70.50,238.95 L70.75,236.83 L71.00,234.88 L71.25,233.16 L71.50,231.76 L71.75,231.30 L72.00,231.30 L72.25,231.30 L72.50,231.30 L72.75,231.30 L73.00,231.40 L73.25,233.17 L73.50,235.59 L73.75,238.40 L74.00,239.60 L74.25,239.60 L74.50,239.60 L74.75,239.60 L75.00,236.68 L75.25,234.09 L75.50,231.99 L75.75,231.30 L76.00,231.30 L76.25,231.30 L76.50,231.30 L76.75,231.30 L77.00,231.30 L77.25,231.66 L77.50,233.57 L77.75,236.02 L78.00,238.82 L78.25,241.88 L78.50,244.50 L78.75,244.50 L79.00,244.50 L79.25,244.50 L79.50,242.53 L79.75,239.41 L80.00,236.55 L80.25,234.02 L80.50,231.98 L80.75,231.30 L81.00,231.30 L81.25,231.30 L81.50,231.30 L81.75,231.30 L82.00,231.30 L82.25,231.30 L82.50,231.46 L82.75,232.05 L83.00,232.80 L83.25,233.64 L83.50,234.00 L83.75,234.00 L84.00,234.00 L84.25,234.00 L84.50,233.12 L84.75,232.34 L85.00,231.67 L85.25,231.30 L85.50,231.30 L85.75,231.30 L86.00,231.30 L86.25,231.55 L86.50,233.42 L86.75,235.87 L87.00,238.68 L87.25,240.50 L87.50,240.50 L87.75,240.50 L88.00,240.50 L88.25,238.09 L88.50,235.34 L88.75,232.98 L89.00,231.32 L89.25,231.30 L89.50,231.30 L89.75,231.30 L90.00,231.30 L90.25,231.30 L90.50,231.30 L90.75,231.30 L91.00,231.30 L91.25,231.30 L91.50,231.30 L91.75,231.30 L92.00,231.30 L92.25,231.30 L92.50,231.30 L92.75,231.30 L93.00,231.35 L93.25,231.77 L93.50,232.34 L93.75,233.00 L94.00,233.00 L94.25,233.00 L94.50,233.00 L94.75,232.73 L95.00,232.10 L95.25,231.58 L95.50,231.30 L95.75,231.30 L96.00,231.30 L96.25,231.30 L96.50,231.30 L96.75,231.30 L97.00,231.30 L97.25,231.30 L97.50,231.30 L97.75,231.58 L98.00,232.10 L98.25,232.73 L98.50,233.00 L98.75,233.00 L99.00,233.00 L99.25,233.00 L99.50,232.34 L99.75,231.77 L100.00,231.35 L100.25,231.30 L100.50,231.66 L100.75,233.32 L101.00,235.44 L101.25,237.85 L101.50,240.49 L101.75,243.32 L102.00,244.50 L102.25,244.50 L102.50,244.50 L102.75,244.50 L103.00,241.60 L103.25,238.88 L103.50,236.37 L103.75,234.13 L104.00,232.25 L104.25,231.30 L104.50,231.30 L104.75,231.30 L105.00,231.30 L105.25,231.30 L105.50,231.30 L105.75,231.30 L106.00,231.30 L106.25,231.30 L106.50,231.30 L106.75,231.30 L107.00,231.30 L107.25,231.30 L107.50,231.30 L107.75,231.30 L108.00,231.30 L108.25,231.30 L108.50,231.30 L108.75,231.30 L109.00,231.30 L109.25,231.30 L109.50,231.30 L109.75,231.30 L110.00,231.30 L110.25,231.30 L110.50,231.30 L110.75,231.30 L111.00,231.30 L111.25,231.30 L111.50,231.33 L111.75,231.58 L112.00,231.91 L112.25,232.30 L112.50,232.30 L112.75,232.30 L113.00,232.30 L113.25,232.14 L113.50,231.77 L113.75,231.46 L114.00,231.30 L114.25,231.30 L114.50,231.30 L114.75,231.30 L115.00,231.30 L115.25,231.30 L115.50,231.30 L115.75,231.30 L116.00,231.30 L116.25,231.30 L116.50,231.30 L116.75,231.30 L117.00,231.30 L117.25,231.30 L117.50,231.30 L117.75,231.30 L118.00,231.30 L118.25,231.30 L118.50,231.30 L118.75,231.30 L119.00,231.30 L119.25,231.30 L119.50,231.30 L119.75,231.30 L120.00,231.39 L120.25,232.88 L120.50,234.92 L120.75,237.28 L121.00,238.30 L121.25,238.30 L121.50,238.30 L121.75,238.30 L122.00,235.83 L122.25,233.65 L122.50,231.88 L122.75,231.30 L123.00,231.30 L123.25,231.30 L123.50,231.37 L123.75,232.61 L124.00,234.30 L124.25,236.26 L124.50,237.10 L124.75,237.10 L125.00,237.10 L125.25,237.10 L125.50,235.06 L125.75,233.25 L126.00,235.41 L126.25,238.45 L126.50,241.83 L126.75,244.00 L127.00,244.00 L127.25,244.00 L127.50,244.00 L127.75,241.13 L128.00,237.81 L128.25,234.85 L128.50,232.39 L128.75,231.30 L129.00,231.30 L129.25,231.30 L129.50,232.49 L129.75,234.39 L130.00,236.63 L130.25,238.10 L130.50,238.10 L130.75,238.10 L131.00,238.10 L131.25,236.16 L131.50,233.98 L131.75,232.16 L132.00,231.30 L132.25,231.30 L132.50,232.15 L132.75,234.34 L133.00,237.02 L133.25,240.04 L133.50,243.32 L133.75,244.00 L134.00,244.00 L134.25,244.00 L134.50,243.32 L134.75,240.04 L135.00,237.02 L135.25,234.34 L135.50,232.15 L135.50,231.30 Z" fill="#1632da" stroke="none"/>
<line x1="35.50" y1="231.30" x2="139.20" y2="231.30" stroke="#b090c0" stroke-width="0.7"/>
<path d="M107.70,231.30 L108.70,229.50 L109.70,231.30 Z" fill="#e0403a"/>
<path d="M157.90,206.40 L157.90,209.80 L158.15,209.80 L158.40,209.80 L158.65,209.36 L158.90,210.18 L159.15,210.70 L159.40,210.70 L159.65,210.70 L159.90,210.70 L160.15,210.01 L160.40,209.20 L160.65,209.83 L160.90,209.83 L161.15,209.83 L161.40,209.83 L161.65,209.39 L161.90,209.00 L162.15,209.00 L162.40,209.00 L162.65,209.00 L162.90,209.00 L163.15,209.27 L163.40,209.27 L163.65,209.27 L163.90,209.27 L164.15,209.00 L164.40,209.00 L164.65,209.00 L164.90,209.00 L165.15,209.00 L165.40,209.00 L165.65,210.25 L165.90,210.49 L166.15,210.49 L166.40,210.49 L166.65,210.13 L166.90,209.60 L167.15,209.60 L167.40,209.47 L167.65,209.00 L167.90,209.08 L168.15,209.08 L168.40,209.08 L168.65,209.00 L168.90,209.00 L169.15,209.00 L169.40,209.00 L169.65,209.00 L169.90,209.00 L170.15,209.00 L170.40,209.00 L170.65,209.00 L170.90,210.29 L171.15,211.71 L171.40,212.30 L171.65,212.30 L171.90,212.30 L172.15,212.30 L172.40,210.85 L172.65,209.50 L172.90,209.00 L173.15,209.00 L173.40,209.77 L173.65,210.21 L173.90,210.21 L174.15,210.21 L174.40,210.21 L174.65,209.43 L174.90,209.00 L175.15,209.00 L175.40,209.00 L175.65,209.00 L175.90,209.00 L176.15,209.00 L176.40,209.00 L176.65,209.35 L176.90,210.48 L177.15,211.20 L177.40,211.20 L177.65,211.20 L177.90,211.20 L178.15,210.25 L178.40,209.66 L178.65,209.83 L178.90,209.83 L179.15,209.83 L179.40,209.63 L179.65,209.00 L179.90,209.00 L180.15,209.23 L180.40,209.60 L180.65,209.60 L180.90,209.60 L181.15,209.60 L181.40,209.94 L181.65,209.94 L181.90,209.94 L182.15,209.94 L182.40,209.55 L182.65,209.00 L182.90,209.00 L183.15,209.00 L183.40,209.00 L183.65,209.92 L183.90,210.22 L184.15,210.22 L184.40,210.22 L184.65,210.13 L184.90,209.17 L185.15,209.16 L185.40,209.92 L185.65,210.73 L185.90,210.90 L186.15,210.90 L186.40,210.90 L186.65,210.73 L186.90,209.92 L187.15,209.16 L187.40,209.00 L187.65,209.00 L187.90,209.00 L188.15,209.00 L188.40,209.30 L188.65,210.32 L188.90,210.32 L189.15,210.32 L189.40,210.32 L189.65,209.76 L189.90,209.00 L190.15,209.00 L190.40,209.00 L190.65,209.48 L190.90,209.48 L191.15,209.48 L191.40,209.48 L191.65,209.43 L191.90,210.18 L192.15,210.96 L192.40,211.77 L192.65,212.61 L192.90,213.30 L193.15,213.30 L193.40,213.30 L193.65,213.30 L193.90,212.78 L194.15,211.93 L194.40,211.11 L194.65,210.33 L194.90,209.58 L195.15,209.68 L195.40,210.54 L195.65,210.82 L195.90,210.82 L196.15,210.82 L196.40,210.74 L196.65,209.88 L196.90,209.14 L197.15,209.32 L197.40,209.32 L197.65,209.32 L197.90,209.27 L198.15,209.64 L198.40,210.00 L198.65,210.00 L198.90,210.00 L199.15,210.24 L199.40,210.86 L199.65,210.86 L199.90,210.86 L200.15,210.86 L200.40,209.81 L200.65,209.38 L200.90,210.15 L201.15,210.16 L201.40,210.16 L201.65,210.16 L201.90,209.85 L202.15,209.10 L202.40,209.04 L202.65,209.50 L202.90,209.50 L203.15,209.50 L203.40,209.50 L203.65,209.07 L203.90,209.00 L204.15,209.00 L204.40,209.00 L204.65,209.00 L204.90,209.00 L205.15,208.20 L205.40,208.20 L205.65,208.54 L205.90,209.85 L206.15,210.42 L206.40,210.42 L206.65,210.42 L206.90,210.42 L207.15,209.05 L207.40,208.20 L207.65,208.20 L207.90,209.02 L208.15,209.10 L208.40,209.10 L208.65,209.10 L208.90,208.78 L209.15,208.20 L209.40,208.20 L209.65,208.20 L209.90,208.20 L210.15,208.20 L210.40,208.26 L210.65,208.92 L210.90,209.26 L211.15,209.26 L211.40,209.26 L211.65,209.26 L211.90,208.64 L212.15,208.20 L212.40,208.20 L212.65,208.36 L212.90,208.95 L213.15,209.28 L213.40,209.28 L213.65,209.28 L213.90,209.28 L214.15,208.76 L214.40,208.38 L214.65,209.62 L214.90,211.67 L215.15,214.20 L215.40,214.20 L215.65,214.20 L215.90,214.20 L216.15,213.16 L216.40,210.73 L216.65,208.58 L216.90,209.07 L217.15,209.33 L217.40,209.33 L217.65,209.33 L217.90,209.85 L218.15,210.70 L218.40,210.70 L218.65,210.70 L218.90,210.70 L219.15,209.57 L219.40,208.29 L219.65,208.36 L219.90,209.45 L220.15,210.51 L220.40,210.51 L220.65,210.51 L220.90,210.51 L221.15,210.10 L221.40,210.10 L221.65,210.10 L221.90,209.37 L222.15,208.24 L222.40,208.20 L222.65,208.20 L222.90,208.61 L223.15,209.32 L223.40,209.32 L223.65,209.32 L223.90,209.32 L224.15,208.93 L224.40,209.00 L224.65,209.00 L224.90,209.00 L225.15,209.00 L225.40,208.48 L225.65,208.20 L225.90,209.23 L226.15,210.18 L226.40,210.18 L226.65,210.18 L226.90,210.18 L227.15,209.28 L227.40,209.00 L227.65,208.65 L227.90,208.20 L228.15,208.20 L228.40,206.56 L228.65,206.40 L228.90,206.40 L229.15,206.40 L229.40,206.40 L229.65,206.40 L229.90,206.40 L230.15,206.40 L230.40,206.40 L230.65,206.40 L230.90,206.40 L231.15,206.40 L231.40,206.40 L231.65,206.40 L231.90,206.40 L232.15,206.40 L232.40,206.49 L232.65,206.72 L232.90,207.01 L233.15,207.20 L233.40,207.20 L233.65,207.20 L233.90,207.20 L234.15,206.95 L234.40,206.67 L234.50,206.40 Z" fill="#1632da" stroke="none"/>
<line x1="153.50" y1="206.40" x2="253.70" y2="206.40" stroke="#b090c0" stroke-width="0.7"/>
<path d="M155.00,231.10 L155.00,233.64 L155.25,235.30 L155.50,237.13 L155.75,239.10 L156.00,239.10 L156.25,239.10 L156.50,239.10 L156.75,238.30 L157.00,238.76 L157.25,241.12 L157.50,242.10 L157.75,242.10 L158.00,242.10 L158.25,242.10 L158.50,239.68 L158.75,237.42 L159.00,235.33 L159.25,233.46 L159.50,232.40 L159.75,232.40 L160.00,232.40 L160.25,232.40 L160.50,232.40 L160.75,232.40 L161.00,232.40 L161.25,232.40 L161.50,232.40 L161.75,232.40 L162.00,232.40 L162.25,232.58 L162.50,233.10 L162.75,233.10 L163.00,233.10 L163.25,233.10 L163.50,232.70 L163.75,232.40 L164.00,232.40 L164.25,232.40 L164.50,232.40 L164.75,232.40 L165.00,232.40 L165.25,232.40 L165.50,232.40 L165.75,232.40 L166.00,232.40 L166.25,232.40 L166.50,232.40 L166.75,232.40 L167.00,232.40 L167.25,232.40 L167.50,232.40 L167.75,232.40 L168.00,232.40 L168.25,232.40 L168.50,232.40 L168.75,232.40 L169.00,232.40 L169.25,232.40 L169.50,232.40 L169.75,232.40 L170.00,232.40 L170.25,232.40 L170.50,232.40 L170.75,233.42 L171.00,234.90 L171.25,236.54 L171.50,238.29 L171.75,239.40 L172.00,239.40 L172.25,239.40 L172.50,239.40 L172.75,237.93 L173.00,236.20 L173.25,234.59 L173.50,233.14 L173.75,232.40 L174.00,232.40 L174.25,232.40 L174.50,232.40 L174.75,232.40 L175.00,232.40 L175.25,232.40 L175.50,232.40 L175.75,232.72 L176.00,233.41 L176.25,234.15 L176.50,234.94 L176.75,235.10 L177.00,235.10 L177.25,235.10 L177.50,234.94 L177.75,234.15 L178.00,233.99 L178.25,235.34 L178.50,236.80 L178.75,237.10 L179.00,237.10 L179.25,237.10 L179.50,236.80 L179.75,236.29 L180.00,238.89 L180.25,241.72 L180.50,242.90 L180.75,242.90 L181.00,242.90 L181.25,242.90 L181.50,240.00 L181.75,237.30 L182.00,234.85 L182.25,232.74 L182.50,232.40 L182.75,232.40 L183.00,232.40 L183.25,232.40 L183.50,232.40 L183.75,232.40 L184.00,232.40 L184.25,232.40 L184.50,232.43 L184.75,233.18 L185.00,233.50 L185.25,233.50 L185.50,233.50 L185.75,233.50 L186.00,232.72 L186.25,232.40 L186.50,232.40 L186.75,232.40 L187.00,232.40 L187.25,232.40 L187.50,232.40 L187.75,232.40 L188.00,232.40 L188.25,232.40 L188.50,232.40 L188.75,232.58 L189.00,233.10 L189.25,233.10 L189.50,233.10 L189.75,233.10 L190.00,232.70 L190.25,232.40 L190.50,232.40 L190.75,232.40 L191.00,232.40 L191.25,232.40 L191.50,232.40 L191.75,232.40 L192.00,232.40 L192.25,232.40 L192.50,232.40 L192.75,232.40 L193.00,232.40 L193.25,232.40 L193.50,232.40 L193.75,232.40 L194.00,233.46 L194.25,236.63 L194.50,240.32 L194.75,244.38 L195.00,246.10 L195.25,246.10 L195.50,246.10 L195.75,246.10 L196.00,246.86 L196.25,247.60 L196.50,247.60 L196.75,247.60 L197.00,246.86 L197.25,246.10 L197.50,246.10 L197.75,246.10 L198.00,246.10 L198.25,242.72 L198.50,238.79 L198.75,235.29 L199.00,232.40 L199.25,232.40 L199.50,232.40 L199.75,232.40 L200.00,232.40 L200.25,232.40 L200.50,232.40 L200.75,232.40 L201.00,232.40 L201.25,234.19 L201.50,237.07 L201.75,240.32 L202.00,243.86 L202.25,246.10 L202.50,246.10 L202.75,246.10 L203.00,246.10 L203.25,243.13 L203.50,242.29 L203.75,243.10 L204.00,243.10 L204.25,243.10 L204.50,242.29 L204.75,240.93 L205.00,244.71 L205.25,247.10 L205.50,247.10 L205.75,247.10 L206.00,247.10 L206.25,243.93 L206.50,240.21 L206.75,236.82 L207.00,233.85 L207.25,232.10 L207.50,232.10 L207.75,232.10 L208.00,232.10 L208.25,232.10 L208.50,232.10 L208.75,232.10 L209.00,232.10 L209.25,232.10 L209.50,232.10 L209.75,232.10 L210.00,232.10 L210.25,232.10 L210.50,232.10 L210.75,232.10 L211.00,232.10 L211.25,232.10 L211.50,232.10 L211.75,232.10 L212.00,232.10 L212.25,232.10 L212.50,232.31 L212.75,235.01 L213.00,238.28 L213.25,241.94 L213.50,245.10 L213.75,245.10 L214.00,245.10 L214.25,245.10 L214.50,243.59 L214.75,247.10 L215.00,247.10 L215.25,247.10 L215.50,247.10 L215.75,245.67 L216.00,243.54 L216.25,246.10 L216.50,246.10 L216.75,246.10 L217.00,246.10 L217.25,242.72 L217.50,238.79 L217.75,235.29 L218.00,232.39 L218.25,232.10 L218.50,232.10 L218.75,235.01 L219.00,238.86 L219.25,243.23 L219.50,245.10 L219.75,245.10 L220.00,245.10 L220.25,245.10 L220.50,246.18 L220.75,247.10 L221.00,247.10 L221.25,247.10 L221.50,246.18 L221.75,241.77 L222.00,237.75 L222.25,234.24 L222.50,232.10 L222.75,232.10 L223.00,232.10 L223.25,232.10 L223.50,232.10 L223.75,232.10 L224.00,232.10 L224.25,231.10 L224.50,231.10 L224.75,231.10 L225.00,231.10 L225.25,231.10 L225.50,231.44 L225.75,232.32 L226.00,233.39 L226.25,234.10 L226.50,234.10 L226.75,234.10 L227.00,234.10 L227.25,233.16 L227.50,232.12 L227.75,231.30 L228.00,231.10 L228.00,231.10 Z" fill="#1632da" stroke="none"/>
<line x1="153.50" y1="231.10" x2="254.00" y2="231.10" stroke="#b090c0" stroke-width="0.7"/>
<path d="M268.50,206.90 L268.50,209.16 L268.75,209.26 L269.00,210.91 L269.25,213.17 L269.50,215.63 L269.75,218.27 L270.00,221.06 L270.25,222.80 L270.50,222.80 L270.75,222.80 L271.00,222.80 L271.25,220.49 L271.50,217.73 L271.75,215.12 L272.00,212.70 L272.25,210.72 L272.50,211.70 L272.75,211.90 L273.00,211.90 L273.25,211.90 L273.50,211.70 L273.75,210.72 L274.00,210.68 L274.25,210.68 L274.50,210.68 L274.75,210.68 L275.00,210.90 L275.25,212.77 L275.50,214.78 L275.75,215.20 L276.00,215.20 L276.25,215.20 L276.50,214.78 L276.75,212.77 L277.00,210.90 L277.25,209.36 L277.50,209.10 L277.75,209.10 L278.00,209.10 L278.25,209.16 L278.50,210.19 L278.75,210.19 L279.00,210.19 L279.25,211.04 L279.50,211.50 L279.75,211.50 L280.00,211.50 L280.25,211.50 L280.50,210.37 L280.75,209.32 L281.00,209.10 L281.25,209.20 L281.50,209.41 L281.75,209.41 L282.00,209.41 L282.25,209.30 L282.50,209.75 L282.75,210.60 L283.00,211.09 L283.25,211.09 L283.50,211.09 L283.75,211.09 L284.00,210.34 L284.25,209.51 L284.50,209.10 L284.75,209.10 L285.00,209.10 L285.25,209.10 L285.50,209.10 L285.75,209.61 L286.00,210.25 L286.25,210.25 L286.50,210.98 L286.75,211.85 L287.00,212.77 L287.25,213.71 L287.50,214.10 L287.75,214.10 L288.00,214.10 L288.25,214.10 L288.50,213.14 L288.75,212.21 L289.00,211.32 L289.25,210.47 L289.50,209.67 L289.75,209.10 L290.00,209.10 L290.25,209.10 L290.50,209.10 L290.75,209.10 L291.00,209.51 L291.25,209.71 L291.50,209.71 L291.75,210.17 L292.00,210.74 L292.25,211.32 L292.50,211.93 L292.75,212.55 L293.00,213.18 L293.25,213.84 L293.50,214.10 L293.75,214.10 L294.00,214.10 L294.25,214.10 L294.50,213.44 L294.75,212.80 L295.00,212.17 L295.25,211.56 L295.50,210.97 L295.75,210.40 L296.00,209.85 L296.25,210.11 L296.50,210.11 L296.75,210.11 L297.00,210.79 L297.25,211.00 L297.50,211.00 L297.75,211.00 L298.00,210.79 L298.25,209.80 L298.50,209.17 L298.75,209.31 L299.00,209.31 L299.25,209.31 L299.50,209.10 L299.75,209.10 L300.00,209.10 L300.25,209.10 L300.50,209.10 L300.75,209.10 L301.00,209.10 L301.25,209.72 L301.50,211.02 L301.75,212.42 L302.00,213.60 L302.25,213.60 L302.50,213.60 L302.75,213.60 L303.00,212.71 L303.25,211.29 L303.50,211.03 L303.75,211.03 L304.00,211.03 L304.25,211.03 L304.50,210.28 L304.75,209.53 L305.00,209.10 L305.25,209.10 L305.50,209.54 L305.75,210.00 L306.00,210.07 L306.25,210.58 L306.50,210.58 L306.75,210.58 L307.00,210.58 L307.25,209.88 L307.50,209.10 L307.75,209.10 L308.00,209.10 L308.25,209.10 L308.50,209.10 L308.75,209.10 L309.00,209.17 L309.25,209.17 L309.50,209.42 L309.75,210.28 L310.00,211.00 L310.25,211.00 L310.50,211.00 L310.75,211.00 L311.00,210.45 L311.25,209.59 L311.50,209.10 L311.75,209.26 L312.00,209.34 L312.25,209.34 L312.50,209.34 L312.75,209.24 L313.00,209.10 L313.25,209.10 L313.50,209.10 L313.75,210.16 L314.00,211.57 L314.25,213.10 L314.50,213.10 L314.75,213.10 L315.00,213.10 L315.25,212.48 L315.50,210.99 L315.75,209.64 L316.00,209.10 L316.25,209.10 L316.50,209.10 L316.75,209.10 L317.00,209.60 L317.25,209.75 L317.50,209.78 L317.75,209.90 L318.00,209.90 L318.25,209.90 L318.50,209.78 L318.75,209.19 L319.00,209.10 L319.25,209.10 L319.50,209.10 L319.75,209.10 L320.00,209.10 L320.25,209.10 L320.50,209.10 L320.75,209.10 L321.00,209.10 L321.25,209.10 L321.50,209.29 L321.75,210.26 L322.00,211.08 L322.25,211.08 L322.50,211.08 L322.75,211.08 L323.00,210.90 L323.25,210.90 L323.50,210.42 L323.75,209.65 L324.00,209.36 L324.25,210.02 L324.50,210.11 L324.75,210.11 L325.00,210.11 L325.25,209.93 L325.50,209.27 L325.75,209.88 L326.00,210.68 L326.25,211.51 L326.50,212.38 L326.75,213.28 L327.00,214.21 L327.25,214.40 L327.50,214.40 L327.75,214.40 L328.00,214.21 L328.25,213.28 L328.50,212.38 L328.75,211.51 L329.00,210.68 L329.25,209.88 L329.50,209.30 L329.75,209.10 L330.00,209.10 L330.25,209.10 L330.50,209.56 L330.75,210.66 L331.00,210.94 L331.25,210.94 L331.50,210.94 L331.75,210.76 L332.00,211.75 L332.25,212.60 L332.50,212.60 L332.75,212.60 L333.00,212.60 L333.25,211.47 L333.50,210.15 L333.75,209.57 L334.00,209.57 L334.25,209.48 L334.50,209.36 L334.75,210.10 L335.00,210.69 L335.25,210.69 L335.50,210.69 L335.75,210.69 L336.00,210.50 L336.25,209.79 L336.50,209.10 L336.75,209.42 L337.00,210.17 L337.25,210.40 L337.50,210.40 L337.75,210.40 L338.00,210.32 L338.25,209.56 L338.50,209.10 L338.75,209.65 L339.00,210.27 L339.25,210.93 L339.50,211.61 L339.75,212.31 L340.00,212.60 L340.25,212.60 L340.50,212.60 L340.75,212.60 L341.00,211.89 L341.25,211.20 L341.50,210.53 L341.75,209.89 L342.00,209.29 L342.25,209.10 L342.50,209.10 L342.75,209.10 L343.00,209.94 L343.25,210.88 L343.50,211.02 L343.75,211.02 L344.00,211.02 L344.25,210.76 L344.50,209.82 L344.75,209.10 L345.00,209.10 L345.25,209.10 L345.50,209.25 L345.75,210.32 L346.00,211.47 L346.25,212.69 L346.50,213.20 L346.75,213.20 L347.00,213.20 L347.25,213.20 L347.50,211.95 L347.75,210.77 L348.00,209.77 L348.25,210.83 L348.50,210.83 L348.75,210.83 L349.00,210.83 L349.25,210.08 L349.50,209.68 L349.75,210.44 L350.00,210.67 L350.25,210.67 L350.50,210.67 L350.75,210.59 L351.00,209.82 L351.25,209.40 L351.50,209.40 L351.75,209.40 L352.00,209.91 L352.25,210.74 L352.50,210.74 L352.75,210.74 L353.00,210.74 L353.25,209.58 L353.50,209.10 L353.75,209.10 L354.00,209.30 L354.25,209.54 L354.50,209.78 L354.75,209.90 L355.00,209.90 L355.25,209.90 L355.50,209.78 L355.75,209.19 L356.00,209.10 L356.25,209.10 L356.50,209.10 L356.75,209.10 L357.00,209.10 L357.25,209.10 L357.50,209.30 L357.75,209.40 L358.00,209.40 L358.25,209.40 L358.50,209.69 L358.75,210.53 L359.00,211.06 L359.25,211.06 L359.50,211.06 L359.75,211.06 L360.00,210.37 L360.25,209.54 L360.50,208.77 L360.75,208.59 L361.00,209.05 L361.25,209.45 L361.50,209.45 L361.75,209.45 L362.00,210.08 L362.25,212.15 L362.50,214.44 L362.75,216.90 L363.00,216.90 L363.25,216.90 L363.50,216.90 L363.75,215.90 L364.00,213.50 L364.25,211.29 L364.50,209.32 L364.75,207.68 L365.00,206.90 L365.00,206.90 Z" fill="#1632da" stroke="none"/>
<line x1="267.50" y1="206.90" x2="371.20" y2="206.90" stroke="#b090c0" stroke-width="0.7"/>
<path d="M352.60,206.90 L353.80,204.40 L355.00,206.90 Z" fill="#e0403a"/>
<path d="M368.70,206.90 L369.70,205.60 L370.70,206.90 Z" fill="#e0403a"/>
<path d="M269.00,232.20 L269.00,232.20 L269.25,232.20 L269.50,232.56 L269.75,233.64 L270.00,234.99 L270.25,236.50 L270.50,238.15 L270.75,239.20 L271.00,239.20 L271.25,239.20 L271.50,239.20 L271.75,237.81 L272.00,236.19 L272.25,234.70 L272.50,233.40 L272.75,232.39 L273.00,232.20 L273.25,232.20 L273.50,232.20 L273.75,232.20 L274.00,232.20 L274.25,232.20 L274.50,232.20 L274.75,232.20 L275.00,232.26 L275.25,232.55 L275.50,232.92 L275.75,233.00 L276.00,233.00 L276.25,233.00 L276.50,232.92 L276.75,232.55 L277.00,232.26 L277.25,232.20 L277.50,232.20 L277.75,232.20 L278.00,232.20 L278.25,232.20 L278.50,232.20 L278.75,232.20 L279.00,232.20 L279.25,232.20 L279.50,232.20 L279.75,232.22 L280.00,232.49 L280.25,232.84 L280.50,233.00 L280.75,233.00 L281.00,233.00 L281.25,233.00 L281.50,232.62 L281.75,232.31 L282.00,232.20 L282.25,232.20 L282.50,232.20 L282.75,232.20 L283.00,232.20 L283.25,232.20 L283.50,232.20 L283.75,232.20 L284.00,232.20 L284.25,232.20 L284.50,232.20 L284.75,232.20 L285.00,232.20 L285.25,232.20 L285.50,232.20 L285.75,232.20 L286.00,232.20 L286.25,232.20 L286.50,232.20 L286.75,232.20 L287.00,232.20 L287.25,232.20 L287.50,232.20 L287.75,232.20 L288.00,232.20 L288.25,232.20 L288.50,232.20 L288.75,232.20 L289.00,232.20 L289.25,232.20 L289.50,232.20 L289.75,232.20 L290.00,232.20 L290.25,232.20 L290.50,232.20 L290.75,232.20 L291.00,232.20 L291.25,232.20 L291.50,232.20 L291.75,232.20 L292.00,232.20 L292.25,232.20 L292.50,232.20 L292.75,232.20 L293.00,232.20 L293.25,232.22 L293.50,232.49 L293.75,232.84 L294.00,233.00 L294.25,233.00 L294.50,233.00 L294.75,233.00 L295.00,232.62 L295.25,232.31 L295.50,232.20 L295.75,232.20 L296.00,232.20 L296.25,232.20 L296.50,232.20 L296.75,232.20 L297.00,232.20 L297.25,232.20 L297.50,232.20 L297.75,232.20 L298.00,232.20 L298.25,232.20 L298.50,232.20 L298.75,232.20 L299.00,232.20 L299.25,232.20 L299.50,232.20 L299.75,232.20 L300.00,232.20 L300.25,232.20 L300.50,232.20 L300.75,232.20 L301.00,232.20 L301.25,232.20 L301.50,232.20 L301.75,232.20 L302.00,232.20 L302.25,232.20 L302.50,232.20 L302.75,232.20 L303.00,232.20 L303.25,232.20 L303.50,232.20 L303.75,232.20 L304.00,232.20 L304.25,232.20 L304.50,232.20 L304.75,232.20 L305.00,232.20 L305.25,232.42 L305.50,232.77 L305.75,233.00 L306.00,233.00 L306.25,233.00 L306.50,233.00 L306.75,232.69 L307.00,232.36 L307.25,232.20 L307.50,232.20 L307.75,232.20 L308.00,232.20 L308.25,232.20 L308.50,232.20 L308.75,232.20 L309.00,232.20 L309.25,232.20 L309.50,232.20 L309.75,232.20 L310.00,232.20 L310.25,232.20 L310.50,232.20 L310.75,232.20 L311.00,232.20 L311.25,232.20 L311.50,232.20 L311.75,232.20 L312.00,232.20 L312.25,232.20 L312.50,232.20 L312.75,232.20 L313.00,232.20 L313.25,232.20 L313.50,232.20 L313.75,232.31 L314.00,232.62 L314.25,233.00 L314.50,233.00 L314.75,233.00 L315.00,233.00 L315.25,232.84 L315.50,232.49 L315.75,232.22 L316.00,232.20 L316.25,232.20 L316.50,232.20 L316.75,232.20 L317.00,232.20 L317.25,232.20 L317.50,232.20 L317.75,232.20 L318.00,232.20 L318.25,232.20 L318.50,232.20 L318.75,232.20 L319.00,232.20 L319.25,232.20 L319.50,232.20 L319.75,232.20 L320.00,232.20 L320.25,232.20 L320.50,232.20 L320.75,232.20 L321.00,232.20 L321.25,232.20 L321.50,232.20 L321.75,232.20 L322.00,232.20 L322.25,232.20 L322.50,232.20 L322.75,232.20 L323.00,232.20 L323.25,232.20 L323.50,232.20 L323.75,232.20 L324.00,232.20 L324.25,232.20 L324.50,232.20 L324.75,232.20 L325.00,232.20 L325.25,232.20 L325.50,232.20 L325.75,232.20 L326.00,232.20 L326.25,232.20 L326.50,232.20 L326.75,232.20 L327.00,232.20 L327.25,232.20 L327.50,232.20 L327.75,232.20 L328.00,232.20 L328.25,232.20 L328.50,232.20 L328.75,232.20 L329.00,232.25 L329.25,232.51 L329.50,232.83 L329.75,232.90 L330.00,232.90 L330.25,232.90 L330.50,232.83 L330.75,232.51 L331.00,232.25 L331.25,232.20 L331.50,232.20 L331.75,232.20 L332.00,232.20 L332.25,232.20 L332.50,232.20 L332.75,232.20 L333.00,232.20 L333.25,232.20 L333.50,232.20 L333.75,232.20 L334.00,232.20 L334.25,232.20 L334.50,232.20 L334.75,232.20 L335.00,232.20 L335.25,232.20 L335.50,232.20 L335.75,232.20 L336.00,232.20 L336.25,232.20 L336.50,232.20 L336.75,232.20 L337.00,232.20 L337.25,232.20 L337.50,232.20 L337.75,232.20 L338.00,232.20 L338.25,232.20 L338.50,232.20 L338.75,232.20 L339.00,232.25 L339.25,232.46 L339.50,232.74 L339.75,232.80 L340.00,232.80 L340.25,232.80 L340.50,232.74 L340.75,232.46 L341.00,232.25 L341.25,232.20 L341.50,232.20 L341.75,232.20 L342.00,232.20 L342.25,232.20 L342.50,232.20 L342.75,232.20 L343.00,232.20 L343.25,232.20 L343.50,232.20 L343.75,232.20 L344.00,232.20 L344.25,232.20 L344.50,232.20 L344.75,232.20 L345.00,232.20 L345.25,232.20 L345.50,232.20 L345.75,232.20 L346.00,232.20 L346.25,232.20 L346.50,232.20 L346.75,232.20 L347.00,232.20 L347.25,232.20 L347.50,232.20 L347.75,232.20 L348.00,232.20 L348.25,232.20 L348.50,232.20 L348.75,232.20 L349.00,232.20 L349.25,232.20 L349.50,232.20 L349.75,232.20 L350.00,232.20 L350.25,232.20 L350.50,232.32 L350.75,232.86 L351.00,233.55 L351.25,233.70 L351.50,233.70 L351.75,233.70 L352.00,233.55 L352.25,232.86 L352.50,232.32 L352.75,232.20 L353.00,232.20 L353.25,232.20 L353.50,232.20 L353.75,232.20 L354.00,232.20 L354.25,232.20 L354.50,232.20 L354.75,232.20 L355.00,232.20 L355.25,232.20 L355.50,232.20 L355.75,232.20 L356.00,232.20 L356.25,232.20 L356.50,232.20 L356.75,232.20 L357.00,232.20 L357.25,232.20 L357.50,232.20 L357.75,232.20 L358.00,232.20 L358.25,232.20 L358.50,232.20 L358.75,232.20 L359.00,232.20 L359.25,232.20 L359.50,232.20 L359.75,232.20 L360.00,232.20 L360.25,232.20 L360.50,232.20 L360.75,232.20 L361.00,232.20 L361.25,232.20 L361.50,232.20 L361.75,232.20 L362.00,232.20 L362.25,232.20 L362.50,232.20 L362.75,232.20 L363.00,232.20 L363.25,232.20 L363.50,232.20 L363.75,232.20 L364.00,232.45 L364.25,233.35 L364.50,234.47 L364.75,235.75 L365.00,236.30 L365.25,236.30 L365.50,236.30 L365.75,236.30 L366.00,234.97 L366.25,233.78 L366.50,232.77 L366.75,232.20 L367.00,232.20 L367.00,232.20 Z" fill="#1632da" stroke="none"/>
<line x1="267.50" y1="232.20" x2="371.20" y2="232.20" stroke="#c8a0b4" stroke-width="0.7"/>
<path d="M385.80,206.80 L385.80,210.30 L386.05,212.27 L386.30,214.72 L386.55,217.36 L386.80,220.16 L387.05,223.10 L387.30,223.10 L387.55,223.10 L387.80,223.10 L388.05,221.91 L388.30,219.02 L388.55,216.28 L388.80,213.71 L389.05,211.35 L389.30,210.30 L389.55,210.50 L389.80,210.50 L390.05,211.59 L390.30,214.43 L390.55,217.54 L390.80,220.20 L391.05,220.20 L391.30,220.20 L391.55,220.20 L391.80,218.20 L392.05,215.03 L392.30,212.13 L392.55,210.30 L392.80,210.97 L393.05,211.41 L393.30,211.41 L393.55,211.41 L393.80,211.37 L394.05,210.49 L394.30,211.13 L394.55,211.80 L394.80,211.80 L395.05,212.41 L395.30,212.79 L395.55,212.79 L395.80,212.79 L396.05,212.30 L396.30,210.62 L396.55,212.13 L396.80,212.62 L397.05,212.62 L397.30,212.62 L397.55,212.48 L397.80,210.95 L398.05,210.30 L398.30,210.30 L398.55,210.79 L398.80,210.79 L399.05,210.79 L399.30,210.79 L399.55,210.30 L399.80,210.30 L400.05,209.80 L400.30,209.80 L400.55,209.80 L400.80,209.80 L401.05,209.80 L401.30,209.80 L401.55,210.25 L401.80,210.43 L402.05,210.65 L402.30,211.95 L402.55,213.33 L402.80,213.90 L403.05,213.90 L403.30,213.90 L403.55,213.90 L403.80,212.49 L404.05,211.33 L404.30,211.44 L404.55,211.44 L404.80,211.44 L405.05,211.21 L405.30,210.36 L405.55,209.80 L405.80,209.80 L406.05,209.80 L406.30,209.80 L406.55,209.80 L406.80,210.18 L407.05,211.17 L407.30,212.00 L407.55,212.00 L407.80,212.00 L408.05,212.00 L408.30,211.38 L408.55,210.38 L408.80,209.80 L409.05,209.80 L409.30,209.80 L409.55,209.80 L409.80,211.57 L410.05,212.77 L410.30,212.77 L410.55,212.77 L410.80,212.77 L411.05,210.80 L411.30,209.80 L411.55,209.80 L411.80,209.80 L412.05,209.80 L412.30,210.54 L412.55,211.75 L412.80,212.41 L413.05,212.41 L413.30,212.41 L413.55,212.41 L413.80,211.31 L414.05,212.04 L414.30,212.50 L414.55,212.50 L414.80,212.50 L415.05,212.50 L415.30,212.19 L415.55,211.74 L415.80,210.62 L416.05,209.80 L416.30,211.22 L416.55,211.72 L416.80,211.72 L417.05,211.72 L417.30,211.60 L417.55,210.09 L417.80,210.12 L418.05,210.81 L418.30,210.81 L418.55,210.81 L418.80,210.81 L419.05,210.34 L419.30,211.38 L419.55,211.60 L419.80,211.60 L420.05,211.60 L420.30,211.74 L420.55,211.74 L420.80,211.74 L421.05,211.64 L421.30,210.67 L421.55,209.80 L421.80,209.80 L422.05,209.80 L422.30,209.80 L422.55,209.82 L422.80,210.80 L423.05,211.83 L423.30,212.73 L423.55,212.73 L423.80,212.73 L424.05,212.73 L424.30,212.12 L424.55,211.07 L424.80,211.95 L425.05,213.33 L425.30,213.90 L425.55,213.90 L425.80,213.90 L426.05,213.90 L426.30,212.49 L426.55,211.16 L426.80,210.72 L427.05,210.47 L427.30,209.80 L427.55,209.80 L427.80,209.80 L428.05,209.80 L428.30,209.99 L428.55,210.97 L428.80,211.44 L429.05,211.44 L429.30,211.44 L429.55,211.44 L429.80,210.47 L430.05,209.80 L430.30,210.32 L430.55,210.38 L430.80,210.38 L431.05,210.38 L431.30,210.50 L431.55,211.00 L431.80,211.00 L432.05,211.00 L432.30,211.00 L432.55,210.33 L432.80,211.56 L433.05,211.89 L433.30,211.89 L433.55,211.89 L433.80,211.47 L434.05,209.80 L434.30,209.80 L434.55,210.19 L434.80,211.39 L435.05,212.53 L435.30,212.53 L435.55,212.53 L435.80,212.53 L436.05,211.87 L436.30,210.64 L436.55,209.80 L436.80,209.80 L437.05,209.80 L437.30,210.00 L437.55,210.00 L437.80,210.00 L438.05,210.00 L438.30,210.39 L438.55,210.39 L438.80,210.39 L439.05,210.39 L439.30,210.24 L439.55,210.82 L439.80,211.30 L440.05,211.30 L440.30,211.30 L440.55,211.30 L440.80,210.94 L441.05,210.35 L441.30,210.31 L441.55,211.48 L441.80,211.55 L442.05,211.55 L442.30,211.55 L442.55,211.14 L442.80,210.00 L443.05,209.00 L443.30,209.00 L443.55,209.00 L443.80,209.00 L444.05,209.00 L444.30,209.91 L444.55,210.97 L444.80,212.10 L445.05,213.28 L445.30,214.52 L445.55,215.80 L445.80,215.80 L446.05,215.80 L446.30,215.80 L446.55,215.28 L446.80,214.02 L447.05,212.80 L447.30,211.64 L447.55,210.61 L447.80,210.61 L448.05,210.61 L448.30,210.10 L448.55,211.72 L448.80,213.60 L449.05,214.80 L449.30,214.80 L449.55,214.80 L449.80,214.80 L450.05,213.21 L450.30,211.36 L450.55,210.23 L450.80,210.23 L451.05,210.23 L451.30,209.27 L451.55,209.00 L451.80,209.00 L452.05,209.00 L452.30,209.00 L452.55,209.00 L452.80,209.00 L453.05,209.62 L453.30,209.62 L453.55,209.62 L453.80,209.62 L454.05,209.00 L454.30,209.00 L454.55,209.00 L454.80,209.26 L455.05,209.56 L455.30,209.81 L455.55,210.68 L455.80,211.41 L456.05,211.41 L456.30,211.41 L456.55,211.41 L456.80,210.85 L457.05,209.97 L457.30,209.14 L457.55,209.00 L457.80,209.00 L458.05,209.00 L458.30,209.00 L458.55,209.00 L458.80,209.50 L459.05,209.80 L459.30,209.80 L459.55,209.80 L459.80,209.67 L460.05,209.00 L460.30,209.90 L460.55,211.57 L460.80,211.74 L461.05,211.74 L461.30,211.74 L461.55,211.21 L461.80,209.57 L462.05,209.00 L462.30,209.17 L462.55,209.35 L462.80,209.35 L463.05,209.35 L463.30,209.14 L463.55,209.60 L463.80,210.09 L464.05,210.60 L464.30,210.60 L464.55,210.60 L464.80,210.60 L465.05,210.40 L465.30,209.90 L465.55,209.41 L465.80,210.75 L466.05,211.62 L466.30,211.62 L466.55,211.62 L466.80,211.62 L467.05,210.28 L467.30,209.00 L467.55,209.00 L467.80,209.00 L468.05,209.00 L468.30,209.10 L468.55,210.04 L468.80,211.06 L469.05,211.15 L469.30,211.15 L469.55,211.15 L469.80,210.82 L470.05,210.60 L470.30,209.66 L470.55,209.00 L470.80,209.24 L471.05,210.20 L471.30,211.23 L471.55,211.23 L471.80,211.23 L472.05,211.23 L472.30,210.81 L472.55,209.81 L472.80,209.00 L473.05,209.00 L473.30,209.00 L473.55,209.00 L473.80,209.00 L474.05,209.00 L474.30,209.00 L474.55,209.00 L474.80,209.00 L475.05,209.00 L475.30,209.00 L475.55,209.00 L475.80,209.00 L476.05,209.00 L476.30,209.00 L476.55,209.00 L476.80,209.00 L477.05,209.00 L477.30,209.46 L477.55,210.12 L477.80,210.12 L478.05,210.12 L478.30,210.12 L478.55,209.28 L478.80,209.00 L479.05,209.00 L479.30,209.00 L479.55,209.03 L479.80,209.41 L480.05,209.79 L480.30,210.19 L480.55,210.60 L480.80,211.02 L481.05,211.45 L481.30,211.80 L481.55,211.80 L481.80,211.80 L482.05,211.80 L482.30,211.54 L482.55,211.11 L482.80,210.68 L483.05,210.27 L483.30,209.87 L483.55,209.48 L483.80,209.36 L484.05,209.36 L484.30,209.00 L484.55,209.00 L484.80,209.00 L485.00,206.80 Z" fill="#1632da" stroke="none"/>
<line x1="385.00" y1="206.80" x2="452.00" y2="206.80" stroke="#8a7ad0" stroke-width="0.8"/>
<line x1="452.00" y1="206.80" x2="492.00" y2="206.80" stroke="#d85050" stroke-width="0.8"/>
<path d="M417.10,206.80 L418.10,204.70 L419.10,206.80 Z" fill="#e0403a"/>
<path d="M459.20,206.80 L460.40,203.30 L461.60,206.80 Z" fill="#e0403a"/>
<path d="M464.00,206.80 L465.00,205.30 L466.00,206.80 Z" fill="#e0403a"/>
<path d="M468.60,206.80 L469.60,205.80 L470.60,206.80 Z" fill="#e0403a"/>
<path d="M474.40,206.80 L475.40,205.80 L476.40,206.80 Z" fill="#e0403a"/>
<path d="M485.50,206.80 L486.90,203.80 L488.30,206.80 Z" fill="#f0a040"/>
<path d="M386.00,231.50 L386.00,233.61 L386.25,235.04 L386.50,236.30 L386.75,236.30 L387.00,236.30 L387.25,236.30 L387.50,235.35 L387.75,233.88 L388.00,233.58 L388.25,233.54 L388.50,233.06 L388.75,234.57 L389.00,236.80 L389.25,239.27 L389.50,241.94 L389.75,242.50 L390.00,242.50 L390.25,242.50 L390.50,241.94 L390.75,239.27 L391.00,236.80 L391.25,234.57 L391.50,232.70 L391.75,232.70 L392.00,232.70 L392.25,232.70 L392.50,232.78 L392.75,233.11 L393.00,233.11 L393.25,233.87 L393.50,235.86 L393.75,238.08 L394.00,240.00 L394.25,240.00 L394.50,240.00 L394.75,240.00 L395.00,238.55 L395.25,236.29 L395.50,234.25 L395.75,233.48 L396.00,233.48 L396.25,233.48 L396.50,233.01 L396.75,234.82 L397.00,237.46 L397.25,240.40 L397.50,243.60 L397.75,247.00 L398.00,247.00 L398.25,247.00 L398.50,247.00 L398.75,245.62 L399.00,242.29 L399.25,239.19 L399.50,236.36 L399.75,233.87 L400.00,232.94 L400.25,232.70 L400.50,233.33 L400.75,233.40 L401.00,233.40 L401.25,233.40 L401.50,233.17 L401.75,232.74 L402.00,233.50 L402.25,234.00 L402.50,234.00 L402.75,234.00 L403.00,234.00 L403.25,233.35 L403.50,233.48 L403.75,233.48 L404.00,233.48 L404.25,233.48 L404.50,233.22 L404.75,232.70 L405.00,232.70 L405.25,232.70 L405.50,232.70 L405.75,232.70 L406.00,232.75 L406.25,233.33 L406.50,233.33 L406.75,233.33 L407.00,233.33 L407.25,233.50 L407.50,233.50 L407.75,233.50 L408.00,233.50 L408.25,232.98 L408.50,232.70 L408.75,232.70 L409.00,232.70 L409.25,232.70 L409.50,232.70 L409.75,232.70 L410.00,232.70 L410.25,232.70 L410.50,232.70 L410.75,232.70 L411.00,232.70 L411.25,232.76 L411.50,233.53 L411.75,233.67 L412.00,233.67 L412.25,233.67 L412.50,233.48 L412.75,232.71 L413.00,232.70 L413.25,232.98 L413.50,233.50 L413.75,233.50 L414.00,233.50 L414.25,233.50 L414.50,233.14 L414.75,232.76 L415.00,232.92 L415.25,233.31 L415.50,233.54 L415.75,233.54 L416.00,233.54 L416.25,233.54 L416.50,233.21 L416.75,232.82 L417.00,232.70 L417.25,232.70 L417.50,232.70 L417.75,232.70 L418.00,232.70 L418.25,232.70 L418.50,232.70 L418.75,232.70 L419.00,233.68 L419.25,235.76 L419.50,238.12 L419.75,240.70 L420.00,240.70 L420.25,240.70 L420.50,240.70 L420.75,239.65 L421.00,237.15 L421.25,234.89 L421.50,232.95 L421.75,232.70 L422.00,232.70 L422.25,232.70 L422.50,232.70 L422.75,232.70 L423.00,232.70 L423.25,232.70 L423.50,232.70 L423.75,232.76 L424.00,233.23 L424.25,233.67 L424.50,235.95 L424.75,238.55 L425.00,241.39 L425.25,244.43 L425.50,245.70 L425.75,245.70 L426.00,245.70 L426.25,245.70 L426.50,242.58 L426.75,239.66 L427.00,236.96 L427.25,234.54 L427.50,233.06 L427.75,233.01 L428.00,232.71 L428.25,232.70 L428.50,232.70 L428.75,232.70 L429.00,232.70 L429.25,232.70 L429.50,232.75 L429.75,232.75 L430.00,232.75 L430.25,232.75 L430.50,232.70 L430.75,232.70 L431.00,232.70 L431.25,232.70 L431.50,232.70 L431.75,232.70 L432.00,232.85 L432.25,233.50 L432.50,233.50 L432.75,233.50 L433.00,233.50 L433.25,233.23 L433.50,232.70 L433.75,232.70 L434.00,233.29 L434.25,233.35 L434.50,233.35 L434.75,233.35 L435.00,233.15 L435.25,232.70 L435.50,232.70 L435.75,232.70 L436.00,232.70 L436.25,231.50 L436.50,231.50 L436.75,231.50 L437.00,231.50 L437.25,231.50 L437.50,231.50 L437.75,231.50 L438.00,231.50 L438.25,231.53 L438.50,231.59 L438.75,231.66 L439.00,231.73 L439.25,231.81 L439.50,231.90 L439.75,231.99 L440.00,232.09 L440.25,232.19 L440.50,232.29 L440.75,232.40 L441.00,232.51 L441.25,232.62 L441.50,232.74 L441.75,232.86 L442.00,232.98 L442.25,233.00 L442.50,233.00 L442.75,233.00 L443.00,232.98 L443.25,232.86 L443.50,232.74 L443.75,232.62 L444.00,232.51 L444.25,232.40 L444.50,232.29 L444.75,232.19 L445.00,232.09 L445.25,231.99 L445.50,231.90 L445.75,231.81 L446.00,231.73 L446.25,231.66 L446.50,231.59 L446.75,231.53 L447.00,231.50 L447.25,231.50 L447.50,231.50 L447.75,231.50 L448.00,231.50 L448.25,231.50 L448.50,231.50 L448.75,231.50 L449.00,231.50 L449.25,231.50 L449.50,231.50 L449.75,231.50 L450.00,231.50 L450.25,231.50 L450.50,231.50 L450.75,231.50 L451.00,231.50 L451.25,231.50 L451.50,231.50 L451.75,231.50 L452.00,231.50 L452.25,231.50 L452.50,231.50 L452.75,231.50 L453.00,231.50 L453.25,231.50 L453.50,231.52 L453.75,231.57 L454.00,231.63 L454.25,231.69 L454.50,231.76 L454.75,231.84 L455.00,231.92 L455.25,232.01 L455.50,232.10 L455.75,232.19 L456.00,232.28 L456.25,232.38 L456.50,232.48 L456.75,232.50 L457.00,232.50 L457.25,232.50 L457.50,232.48 L457.75,232.38 L458.00,232.28 L458.25,232.19 L458.50,232.10 L458.75,232.01 L459.00,231.92 L459.25,231.84 L459.50,231.76 L459.75,231.69 L460.00,231.63 L460.25,231.57 L460.50,231.52 L460.75,231.50 L461.00,231.50 L461.25,231.50 L461.50,231.50 L461.75,231.50 L462.00,231.50 L462.25,231.50 L462.50,231.50 L462.75,231.53 L463.00,231.62 L463.25,231.73 L463.50,231.86 L463.75,232.00 L464.00,232.14 L464.25,232.30 L464.50,232.47 L464.75,232.50 L465.00,232.50 L465.25,232.50 L465.50,232.47 L465.75,232.30 L466.00,232.14 L466.25,232.00 L466.50,231.86 L466.75,231.73 L467.00,231.62 L467.25,231.53 L467.50,231.50 L467.75,231.50 L468.00,231.50 L468.25,231.50 L468.50,231.50 L468.75,231.50 L469.00,231.50 L469.25,231.50 L469.50,231.50 L469.75,231.50 L470.00,231.50 L470.25,231.50 L470.50,231.50 L470.75,231.50 L471.00,231.50 L471.25,231.50 L471.50,231.50 L471.75,231.50 L472.00,231.50 L472.25,231.50 L472.50,231.50 L472.75,231.50 L473.00,231.50 L473.25,231.50 L473.50,231.50 L473.75,231.50 L474.00,231.50 L474.25,231.50 L474.50,231.50 L474.75,231.50 L475.00,231.50 L475.25,231.50 L475.50,231.50 L475.75,231.50 L476.00,231.50 L476.25,231.53 L476.50,231.70 L476.75,231.92 L477.00,232.17 L477.25,232.45 L477.50,232.75 L477.75,233.06 L478.00,233.39 L478.25,233.73 L478.50,234.08 L478.75,234.45 L479.00,234.82 L479.25,234.90 L479.50,234.90 L479.75,234.90 L480.00,234.82 L480.25,234.45 L480.50,234.08 L480.75,233.73 L481.00,233.39 L481.25,233.06 L481.50,232.75 L481.75,232.45 L482.00,232.17 L482.25,231.92 L482.50,231.70 L482.75,231.53 L483.00,231.50 L483.25,231.50 L483.50,231.50 L483.75,231.50 L484.00,231.50 L484.00,231.50 Z" fill="#1632da" stroke="none"/>
<line x1="385.00" y1="231.50" x2="420.00" y2="231.50" stroke="#9a80c0" stroke-width="0.8"/>
<line x1="420.00" y1="231.50" x2="491.00" y2="231.50" stroke="#d86060" stroke-width="0.8"/>
<path d="M459.30,231.50 L460.10,229.30 L460.90,231.50 Z" fill="#e0403a"/>
<path d="M467.10,231.50 L467.90,224.90 L468.70,231.50 Z" fill="#e0403a"/>
<line x1="136.60" y1="206.80" x2="136.60" y2="215.30" stroke="#6a7a30" stroke-width="1.1"/>
<line x1="248.20" y1="206.40" x2="248.20" y2="215.30" stroke="#6a7a30" stroke-width="1.1"/>
<line x1="248.20" y1="231.10" x2="248.20" y2="237.00" stroke="#6a7a30" stroke-width="1.1"/>
<line x1="365.60" y1="206.90" x2="365.60" y2="223.20" stroke="#6a7a30" stroke-width="1.1"/>
<line x1="487.70" y1="229.00" x2="487.70" y2="234.00" stroke="#6a7a30" stroke-width="1.1"/>
</svg>
</body></html>
